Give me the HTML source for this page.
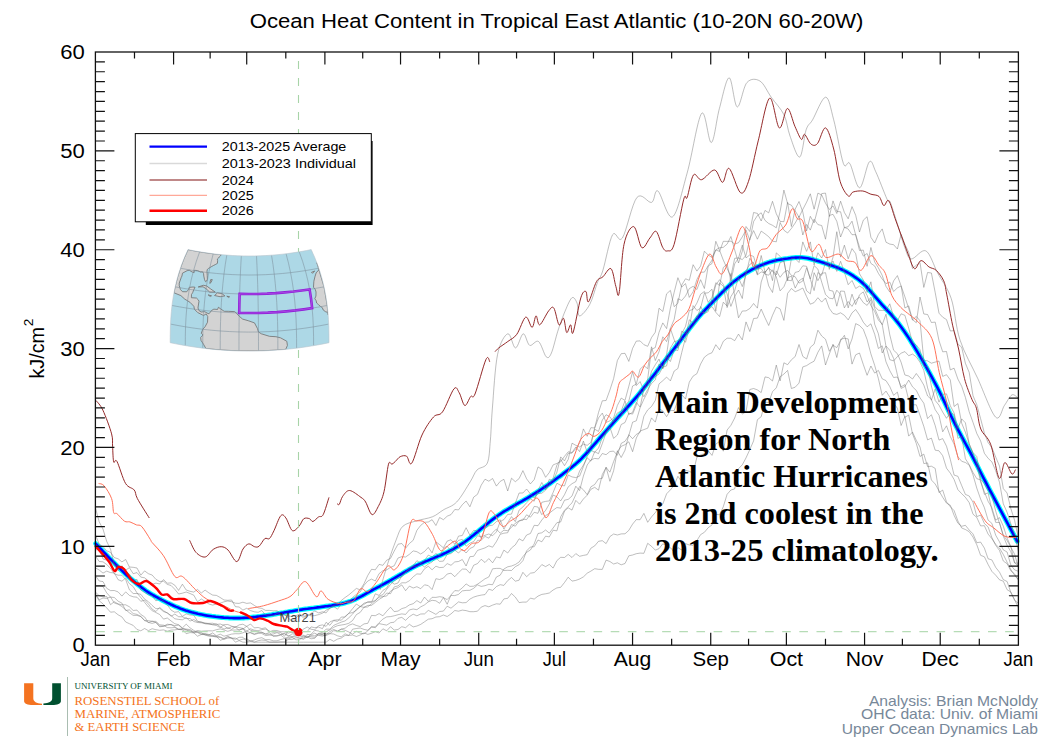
<!DOCTYPE html>
<html><head><meta charset="utf-8"><style>
html,body{margin:0;padding:0;background:#fff;width:1061px;height:742px;overflow:hidden}
svg{display:block}
</style></head><body>
<svg width="1061" height="742" viewBox="0 0 1061 742">
<rect width="1061" height="742" fill="#fff"/>
<polyline points="95.7,543.6 97.7,545.7 99.7,547.9 101.7,550.0 103.7,552.1 105.7,554.2 107.7,556.3 109.7,558.4 111.7,560.4 113.7,562.4 115.7,564.5 117.7,566.5 119.7,568.4 121.7,570.4 123.7,572.3 125.7,574.2 127.7,576.0 129.7,577.8 131.7,579.5 133.7,581.2 135.7,582.9 137.7,584.5 139.7,586.0 141.7,587.6 143.7,589.0 145.7,590.5 147.7,591.8 149.7,593.1 151.7,594.3 153.7,595.5 155.7,596.6 157.7,597.7 159.7,598.8 161.7,599.9 163.7,600.9 165.7,601.9 167.7,602.9 169.7,603.8 171.7,604.8 173.7,605.7 175.7,606.6 177.7,607.4 179.7,608.3 181.7,609.1 183.7,609.8 185.7,610.5 187.7,611.1 189.7,611.7 191.7,612.3 193.7,612.8 195.7,613.3 197.7,613.8 199.7,614.2 201.7,614.6 203.7,615.0 205.7,615.4 207.7,615.7 209.7,616.0 211.7,616.3 213.7,616.5 215.7,616.8 217.7,617.0 219.7,617.2 221.7,617.4 223.7,617.6 225.7,617.7 227.7,617.8 229.7,618.0 231.7,618.0 233.7,618.1 235.7,618.1 237.7,618.1 239.7,618.1 241.7,618.0 243.7,617.9 245.7,617.8 247.7,617.7 249.7,617.5 251.7,617.3 253.7,617.1 255.7,616.9 257.7,616.6 259.7,616.4 261.7,616.1 263.7,615.8 265.7,615.6 267.7,615.3 269.7,615.0 271.7,614.7 273.7,614.3 275.7,614.0 277.7,613.6 279.7,613.3 281.7,612.9 283.7,612.6 285.7,612.2 287.7,611.9 289.7,611.5 291.7,611.2 293.7,610.9 295.7,610.5 297.7,610.2 299.7,609.9 301.7,609.6 303.7,609.3 305.7,609.0 307.7,608.8 309.7,608.5 311.7,608.2 313.7,608.0 315.7,607.7 317.7,607.4 319.7,607.2 321.7,606.9 323.7,606.6 325.7,606.3 327.7,606.1 329.7,605.8 331.7,605.5 333.7,605.1 335.7,604.8 337.7,604.5 339.7,604.1 341.7,603.7 343.7,603.2 345.7,602.7 347.7,602.1 349.7,601.5 351.7,600.8 353.7,600.0 355.7,599.1 357.7,598.1 359.7,597.1 361.7,596.1 363.7,595.0 365.7,593.8 367.7,592.7 369.7,591.6 371.7,590.5 373.7,589.4 375.7,588.4 377.7,587.3 379.7,586.3 381.7,585.2 383.7,584.1 385.7,583.0 387.7,581.9 389.7,580.8 391.7,579.7 393.7,578.5 395.7,577.3 397.7,576.2 399.7,575.0 401.7,573.9 403.7,572.7 405.7,571.5 407.7,570.4 409.7,569.2 411.7,568.1 413.7,567.0 415.7,566.0 417.7,565.0 419.7,564.1 421.7,563.2 423.7,562.3 425.7,561.4 427.7,560.6 429.7,559.7 431.7,558.9 433.7,558.1 435.7,557.2 437.7,556.4 439.7,555.6 441.7,554.7 443.7,553.8 445.7,552.9 447.7,551.9 449.7,550.9 451.7,549.9 453.7,548.8 455.7,547.6 457.7,546.5 459.7,545.2 461.7,543.9 463.7,542.6 465.7,541.2 467.7,539.7 469.7,538.2 471.7,536.6 473.7,535.0 475.7,533.3 477.7,531.7 479.7,530.0 481.7,528.3 483.7,526.7 485.7,525.0 487.7,523.4 489.7,521.7 491.7,520.1 493.7,518.6 495.7,517.1 497.7,515.7 499.7,514.3 501.7,513.0 503.7,511.7 505.7,510.5 507.7,509.3 509.7,508.1 511.7,507.0 513.7,505.8 515.7,504.7 517.7,503.5 519.7,502.4 521.7,501.3 523.7,500.1 525.7,499.0 527.7,497.8 529.7,496.6 531.7,495.4 533.7,494.1 535.7,492.9 537.7,491.6 539.7,490.3 541.7,489.0 543.7,487.7 545.7,486.4 547.7,485.0 549.7,483.6 551.7,482.2 553.7,480.8 555.7,479.3 557.7,477.8 559.7,476.4 561.7,474.9 563.7,473.3 565.7,471.8 567.7,470.3 569.7,468.8 571.7,467.2 573.7,465.6 575.7,463.9 577.7,462.1 579.7,460.3 581.7,458.3 583.7,456.2 585.7,454.1 587.7,451.9 589.7,449.6 591.7,447.3 593.7,445.1 595.7,442.8 597.7,440.5 599.7,438.2 601.7,435.9 603.7,433.6 605.7,431.3 607.7,429.1 609.7,426.8 611.7,424.6 613.7,422.4 615.7,420.1 617.7,417.9 619.7,415.7 621.7,413.5 623.7,411.3 625.7,409.1 627.7,406.9 629.7,404.7 631.7,402.4 633.7,400.2 635.7,397.9 637.7,395.5 639.7,393.1 641.7,390.6 643.7,388.1 645.7,385.6 647.7,383.0 649.7,380.5 651.7,377.9 653.7,375.3 655.7,372.7 657.7,370.1 659.7,367.5 661.7,364.9 663.7,362.3 665.7,359.7 667.7,357.1 669.7,354.5 671.7,351.8 673.7,349.2 675.7,346.6 677.7,344.0 679.7,341.4 681.7,338.8 683.7,336.1 685.7,333.5 687.7,330.9 689.7,328.3 691.7,325.7 693.7,323.2 695.7,320.7 697.7,318.2 699.7,315.9 701.7,313.6 703.7,311.3 705.7,309.2 707.7,307.1 709.7,305.0 711.7,303.0 713.7,300.9 715.7,298.9 717.7,296.9 719.7,294.9 721.7,292.8 723.7,290.9 725.7,288.9 727.7,287.0 729.7,285.2 731.7,283.4 733.7,281.7 735.7,280.2 737.7,278.7 739.7,277.2 741.7,275.8 743.7,274.5 745.7,273.2 747.7,272.0 749.7,270.8 751.7,269.7 753.7,268.6 755.7,267.6 757.7,266.7 759.7,265.8 761.7,265.0 763.7,264.2 765.7,263.4 767.7,262.7 769.7,262.0 771.7,261.5 773.7,260.9 775.7,260.5 777.7,260.1 779.7,259.7 781.7,259.4 783.7,259.0 785.7,258.7 787.7,258.5 789.7,258.2 791.7,257.9 793.7,257.7 795.7,257.6 797.7,257.5 799.7,257.5 801.7,257.5 803.7,257.7 805.7,258.0 807.7,258.3 809.7,258.8 811.7,259.3 813.7,259.8 815.7,260.4 817.7,261.0 819.7,261.6 821.7,262.2 823.7,262.8 825.7,263.5 827.7,264.2 829.7,264.9 831.7,265.6 833.7,266.3 835.7,267.0 837.7,267.8 839.7,268.6 841.7,269.5 843.7,270.4 845.7,271.4 847.7,272.5 849.7,273.7 851.7,274.9 853.7,276.2 855.7,277.6 857.7,279.0 859.7,280.5 861.7,282.2 863.7,284.0 865.7,285.9 867.7,288.0 869.7,290.3 871.7,292.6 873.7,295.0 875.7,297.4 877.7,299.7 879.7,302.0 881.7,304.3 883.7,306.5 885.7,308.6 887.7,310.8 889.7,312.9 891.7,315.1 893.7,317.5 895.7,319.9 897.7,322.4 899.7,325.0 901.7,327.7 903.7,330.5 905.7,333.4 907.7,336.4 909.7,339.4 911.7,342.6 913.7,345.8 915.7,349.1 917.7,352.4 919.7,355.8 921.7,359.2 923.7,362.7 925.7,366.2 927.7,369.7 929.7,373.3 931.7,376.9 933.7,380.6 935.7,384.3 937.7,388.2 939.7,392.2 941.7,396.3 943.7,400.4 945.7,404.6 947.7,408.9 949.7,413.1 951.7,417.2 953.7,421.3 955.7,425.3 957.7,429.1 959.7,432.9 961.7,436.6 963.7,440.3 965.7,444.0 967.7,447.7 969.7,451.4 971.7,455.2 973.7,459.0 975.7,462.9 977.7,466.7 979.7,470.6 981.7,474.5 983.7,478.3 985.7,482.2 987.7,486.0 989.7,489.8 991.7,493.6 993.7,497.3 995.7,501.1 997.7,504.9 999.7,508.6 1001.7,512.4 1003.7,516.1 1005.7,519.9 1007.7,523.6 1009.7,527.4 1011.7,531.1 1013.7,534.8 1015.7,538.6 1017.2,541.3" fill="none" stroke="#00ffff" stroke-width="5.0" stroke-linecap="round" stroke-linejoin="round"/>
<polyline points="95.7,543.6 97.7,545.7 99.7,547.9 101.7,550.0 103.7,552.1 105.7,554.2 107.7,556.3 109.7,558.4 111.7,560.4 113.7,562.4 115.7,564.5 117.7,566.5 119.7,568.4 121.7,570.4 123.7,572.3 125.7,574.2 127.7,576.0 129.7,577.8 131.7,579.5 133.7,581.2 135.7,582.9 137.7,584.5 139.7,586.0 141.7,587.6 143.7,589.0 145.7,590.5 147.7,591.8 149.7,593.1 151.7,594.3 153.7,595.5 155.7,596.6 157.7,597.7 159.7,598.8 161.7,599.9 163.7,600.9 165.7,601.9 167.7,602.9 169.7,603.8 171.7,604.8 173.7,605.7 175.7,606.6 177.7,607.4 179.7,608.3 181.7,609.1 183.7,609.8 185.7,610.5 187.7,611.1 189.7,611.7 191.7,612.3 193.7,612.8 195.7,613.3 197.7,613.8 199.7,614.2 201.7,614.6 203.7,615.0 205.7,615.4 207.7,615.7 209.7,616.0 211.7,616.3 213.7,616.5 215.7,616.8 217.7,617.0 219.7,617.2 221.7,617.4 223.7,617.6 225.7,617.7 227.7,617.8 229.7,618.0 231.7,618.0 233.7,618.1 235.7,618.1 237.7,618.1 239.7,618.1 241.7,618.0 243.7,617.9 245.7,617.8 247.7,617.7 249.7,617.5 251.7,617.3 253.7,617.1 255.7,616.9 257.7,616.6 259.7,616.4 261.7,616.1 263.7,615.8 265.7,615.6 267.7,615.3 269.7,615.0 271.7,614.7 273.7,614.3 275.7,614.0 277.7,613.6 279.7,613.3 281.7,612.9 283.7,612.6 285.7,612.2 287.7,611.9 289.7,611.5 291.7,611.2 293.7,610.9 295.7,610.5 297.7,610.2 299.7,609.9 301.7,609.6 303.7,609.3 305.7,609.0 307.7,608.8 309.7,608.5 311.7,608.2 313.7,608.0 315.7,607.7 317.7,607.4 319.7,607.2 321.7,606.9 323.7,606.6 325.7,606.3 327.7,606.1 329.7,605.8 331.7,605.5 333.7,605.1 335.7,604.8 337.7,604.5 339.7,604.1 341.7,603.7 343.7,603.2 345.7,602.7 347.7,602.1 349.7,601.5 351.7,600.8 353.7,600.0 355.7,599.1 357.7,598.1 359.7,597.1 361.7,596.1 363.7,595.0 365.7,593.8 367.7,592.7 369.7,591.6 371.7,590.5 373.7,589.4 375.7,588.4 377.7,587.3 379.7,586.3 381.7,585.2 383.7,584.1 385.7,583.0 387.7,581.9 389.7,580.8 391.7,579.7 393.7,578.5 395.7,577.3 397.7,576.2 399.7,575.0 401.7,573.9 403.7,572.7 405.7,571.5 407.7,570.4 409.7,569.2 411.7,568.1 413.7,567.0 415.7,566.0 417.7,565.0 419.7,564.1 421.7,563.2 423.7,562.3 425.7,561.4 427.7,560.6 429.7,559.7 431.7,558.9 433.7,558.1 435.7,557.2 437.7,556.4 439.7,555.6 441.7,554.7 443.7,553.8 445.7,552.9 447.7,551.9 449.7,550.9 451.7,549.9 453.7,548.8 455.7,547.6 457.7,546.5 459.7,545.2 461.7,543.9 463.7,542.6 465.7,541.2 467.7,539.7 469.7,538.2 471.7,536.6 473.7,535.0 475.7,533.3 477.7,531.7 479.7,530.0 481.7,528.3 483.7,526.7 485.7,525.0 487.7,523.4 489.7,521.7 491.7,520.1 493.7,518.6 495.7,517.1 497.7,515.7 499.7,514.3 501.7,513.0 503.7,511.7 505.7,510.5 507.7,509.3 509.7,508.1 511.7,507.0 513.7,505.8 515.7,504.7 517.7,503.5 519.7,502.4 521.7,501.3 523.7,500.1 525.7,499.0 527.7,497.8 529.7,496.6 531.7,495.4 533.7,494.1 535.7,492.9 537.7,491.6 539.7,490.3 541.7,489.0 543.7,487.7 545.7,486.4 547.7,485.0 549.7,483.6 551.7,482.2 553.7,480.8 555.7,479.3 557.7,477.8 559.7,476.4 561.7,474.9 563.7,473.3 565.7,471.8 567.7,470.3 569.7,468.8 571.7,467.2 573.7,465.6 575.7,463.9 577.7,462.1 579.7,460.3 581.7,458.3 583.7,456.2 585.7,454.1 587.7,451.9 589.7,449.6 591.7,447.3 593.7,445.1 595.7,442.8 597.7,440.5 599.7,438.2 601.7,435.9 603.7,433.6 605.7,431.3 607.7,429.1 609.7,426.8 611.7,424.6 613.7,422.4 615.7,420.1 617.7,417.9 619.7,415.7 621.7,413.5 623.7,411.3 625.7,409.1 627.7,406.9 629.7,404.7 631.7,402.4 633.7,400.2 635.7,397.9 637.7,395.5 639.7,393.1 641.7,390.6 643.7,388.1 645.7,385.6 647.7,383.0 649.7,380.5 651.7,377.9 653.7,375.3 655.7,372.7 657.7,370.1 659.7,367.5 661.7,364.9 663.7,362.3 665.7,359.7 667.7,357.1 669.7,354.5 671.7,351.8 673.7,349.2 675.7,346.6 677.7,344.0 679.7,341.4 681.7,338.8 683.7,336.1 685.7,333.5 687.7,330.9 689.7,328.3 691.7,325.7 693.7,323.2 695.7,320.7 697.7,318.2 699.7,315.9 701.7,313.6 703.7,311.3 705.7,309.2 707.7,307.1 709.7,305.0 711.7,303.0 713.7,300.9 715.7,298.9 717.7,296.9 719.7,294.9 721.7,292.8 723.7,290.9 725.7,288.9 727.7,287.0 729.7,285.2 731.7,283.4 733.7,281.7 735.7,280.2 737.7,278.7 739.7,277.2 741.7,275.8 743.7,274.5 745.7,273.2 747.7,272.0 749.7,270.8 751.7,269.7 753.7,268.6 755.7,267.6 757.7,266.7 759.7,265.8 761.7,265.0 763.7,264.2 765.7,263.4 767.7,262.7 769.7,262.0 771.7,261.5 773.7,260.9 775.7,260.5 777.7,260.1 779.7,259.7 781.7,259.4 783.7,259.0 785.7,258.7 787.7,258.5 789.7,258.2 791.7,257.9 793.7,257.7 795.7,257.6 797.7,257.5 799.7,257.5 801.7,257.5 803.7,257.7 805.7,258.0 807.7,258.3 809.7,258.8 811.7,259.3 813.7,259.8 815.7,260.4 817.7,261.0 819.7,261.6 821.7,262.2 823.7,262.8 825.7,263.5 827.7,264.2 829.7,264.9 831.7,265.6 833.7,266.3 835.7,267.0 837.7,267.8 839.7,268.6 841.7,269.5 843.7,270.4 845.7,271.4 847.7,272.5 849.7,273.7 851.7,274.9 853.7,276.2 855.7,277.6 857.7,279.0 859.7,280.5 861.7,282.2 863.7,284.0 865.7,285.9 867.7,288.0 869.7,290.3 871.7,292.6 873.7,295.0 875.7,297.4 877.7,299.7 879.7,302.0 881.7,304.3 883.7,306.5 885.7,308.6 887.7,310.8 889.7,312.9 891.7,315.1 893.7,317.5 895.7,319.9 897.7,322.4 899.7,325.0 901.7,327.7 903.7,330.5 905.7,333.4 907.7,336.4 909.7,339.4 911.7,342.6 913.7,345.8 915.7,349.1 917.7,352.4 919.7,355.8 921.7,359.2 923.7,362.7 925.7,366.2 927.7,369.7 929.7,373.3 931.7,376.9 933.7,380.6 935.7,384.3 937.7,388.2 939.7,392.2 941.7,396.3 943.7,400.4 945.7,404.6 947.7,408.9 949.7,413.1 951.7,417.2 953.7,421.3 955.7,425.3 957.7,429.1 959.7,432.9 961.7,436.6 963.7,440.3 965.7,444.0 967.7,447.7 969.7,451.4 971.7,455.2 973.7,459.0 975.7,462.9 977.7,466.7 979.7,470.6 981.7,474.5 983.7,478.3 985.7,482.2 987.7,486.0 989.7,489.8 991.7,493.6 993.7,497.3 995.7,501.1 997.7,504.9 999.7,508.6 1001.7,512.4 1003.7,516.1 1005.7,519.9 1007.7,523.6 1009.7,527.4 1011.7,531.1 1013.7,534.8 1015.7,538.6 1017.2,541.3" fill="none" stroke="#0000ff" stroke-width="2.6" stroke-linecap="round" stroke-linejoin="round"/>
<polyline points="95.4,507.7 99.2,521.8 103.0,529.1 106.7,541.4 110.5,549.1 114.3,564.9 118.1,565.5 121.9,568.5 125.7,570.1 129.4,567.7 133.2,573.7 137.0,572.6 140.8,577.1 144.6,577.8 148.4,580.9 152.1,584.5 155.9,583.1 159.7,584.0 163.5,579.6 167.3,583.2 171.1,582.9 174.8,585.2 178.6,590.4 182.4,584.2 186.2,590.0 190.0,591.3 193.8,592.1 197.5,589.4 201.3,593.0 205.1,590.1 208.9,592.9 212.7,595.1 216.4,595.4 220.2,597.5 224.0,600.0 227.8,600.3 231.6,600.0 235.4,606.7 239.1,607.0 242.9,610.1 246.7,608.3 250.5,610.6 254.3,611.8 258.1,612.3 261.8,610.5 265.6,615.1 269.4,614.7 273.2,615.9 277.0,613.6 280.8,615.0 284.5,614.3 288.3,618.1 292.1,621.1 295.9,617.9 299.7,614.5 303.5,617.9 307.2,614.7 311.0,615.9 314.8,615.6 318.6,614.6 322.4,613.2 326.1,610.2 329.9,608.2 333.7,605.5 337.5,604.7 341.3,600.5 345.1,597.5 348.8,594.9 352.6,591.7 356.4,588.4 360.2,589.9 364.0,583.7 367.8,575.4 371.5,569.3 375.3,569.8 379.1,564.4 382.9,565.3 386.7,560.2 390.5,558.4 394.2,551.1 398.0,544.2 401.8,543.5 405.6,548.2 409.4,543.5 413.2,540.3 416.9,530.3 420.7,525.4 424.5,522.3 428.3,522.0 432.1,519.7 435.9,525.5 439.6,517.5 443.4,519.7 447.2,516.2 451.0,514.6 454.8,509.5 458.5,509.9 462.3,504.7 466.1,501.0 469.9,506.8 473.7,497.1 477.5,494.3 481.2,485.2 485.0,479.2 488.8,481.2 492.6,478.5 496.4,486.1 500.2,481.4 503.9,479.3 507.7,491.0 511.5,478.2 515.3,481.7 519.1,478.6 522.9,470.6 526.6,478.8 530.4,483.9 534.2,479.6 538.0,466.9 541.8,469.4 545.6,477.3 549.3,472.5 553.1,464.9 556.9,463.4 560.7,461.7 564.5,456.3 568.2,451.8 572.0,452.5 575.8,447.0 579.6,451.6 583.4,441.1 587.2,452.2 590.9,445.6 594.7,427.9 598.5,412.5 602.3,400.8 606.1,400.5 609.9,390.0 613.6,378.7 617.4,360.4 621.2,353.7 625.0,353.3 628.8,361.4 632.6,348.3 636.3,341.1 640.1,340.9 643.9,344.7 647.7,346.3 651.5,337.6 655.3,332.2 659.0,308.2 662.8,311.5 666.6,293.8 670.4,290.4 674.2,306.7 677.9,303.2 681.7,285.1 685.5,278.8 689.3,280.3 693.1,264.7 696.9,271.1 700.6,266.1 704.4,251.2 708.2,255.0 712.0,257.4 715.8,250.0 719.6,251.4 723.3,241.3 727.1,241.4 730.9,241.2 734.7,244.0 738.5,242.7 742.3,236.9 746.0,230.1 749.8,240.1 753.6,221.6 757.4,215.5 761.2,212.8 765.0,220.4 768.7,223.5 772.5,225.3 776.3,227.8 780.1,211.5 783.9,190.1 787.6,203.6 791.4,205.2 795.2,210.9 799.0,217.2 802.8,209.4 806.6,202.2 810.3,193.8 814.1,209.2 817.9,193.1 821.7,195.0 825.5,203.2 829.3,209.5 833.0,205.9 836.8,213.5 840.6,201.2 844.4,212.5 848.2,218.8 852.0,206.6 855.7,215.3 859.5,232.0 863.3,220.2 867.1,216.7 870.9,237.3 874.7,243.0 878.4,234.4 882.2,228.9 886.0,242.2 889.8,244.1 893.6,244.7 897.4,249.0 901.1,234.4 904.9,244.3 908.7,252.2 912.5,268.5 916.3,265.2 920.0,262.6 923.8,287.4 927.6,272.5 931.4,273.0 935.2,292.5 939.0,313.2 942.7,317.2 946.5,319.6 950.3,331.0 954.1,330.6 957.9,344.1 961.7,347.2 965.4,363.3 969.2,372.4 973.0,395.7 976.8,404.7 980.6,418.6 984.4,433.2 988.1,442.6 991.9,447.7 995.7,457.0 999.5,466.1 1003.3,488.6 1007.1,493.0 1010.8,508.4 1014.6,520.4 1018.4,537.9" fill="none" stroke="#6e6e6e" stroke-opacity="0.5" stroke-width="0.9" stroke-linejoin="round"/>
<polyline points="95.4,534.7 99.2,544.1 103.0,546.6 106.7,550.8 110.5,552.4 114.3,557.6 118.1,558.8 121.9,561.9 125.7,559.5 129.4,567.0 133.2,567.3 137.0,568.0 140.8,575.2 144.6,570.9 148.4,573.7 152.1,575.0 155.9,579.3 159.7,581.5 163.5,581.2 167.3,584.4 171.1,585.5 174.8,589.3 178.6,594.0 182.4,593.2 186.2,592.0 190.0,593.5 193.8,595.2 197.5,601.8 201.3,599.0 205.1,601.4 208.9,604.0 212.7,605.1 216.4,604.0 220.2,603.2 224.0,601.8 227.8,601.0 231.6,601.7 235.4,603.2 239.1,603.4 242.9,602.2 246.7,603.4 250.5,602.9 254.3,605.4 258.1,607.8 261.8,608.4 265.6,610.4 269.4,610.4 273.2,610.8 277.0,610.7 280.8,613.6 284.5,615.4 288.3,616.0 292.1,616.5 295.9,615.7 299.7,614.1 303.5,616.2 307.2,615.9 311.0,613.3 314.8,611.0 318.6,612.9 322.4,611.8 326.1,612.9 329.9,608.1 333.7,606.4 337.5,609.2 341.3,604.2 345.1,602.2 348.8,601.9 352.6,597.4 356.4,594.4 360.2,591.9 364.0,585.3 367.8,581.0 371.5,579.1 375.3,581.0 379.1,573.6 382.9,570.7 386.7,569.9 390.5,567.3 394.2,565.8 398.0,558.0 401.8,556.7 405.6,557.0 409.4,554.3 413.2,550.9 416.9,551.7 420.7,554.0 424.5,551.5 428.3,547.4 432.1,552.9 435.9,541.9 439.6,544.6 443.4,547.8 447.2,541.1 451.0,539.7 454.8,544.3 458.5,536.1 462.3,535.5 466.1,527.7 469.9,535.3 473.7,530.4 477.5,530.7 481.2,538.4 485.0,528.2 488.8,525.9 492.6,525.1 496.4,521.6 500.2,519.8 503.9,529.1 507.7,522.6 511.5,516.6 515.3,521.6 519.1,510.1 522.9,507.0 526.6,502.7 530.4,499.0 534.2,501.2 538.0,490.3 541.8,482.5 545.6,489.7 549.3,479.3 553.1,480.7 556.9,472.2 560.7,456.9 564.5,460.9 568.2,453.4 572.0,453.1 575.8,448.7 579.6,443.0 583.4,428.9 587.2,436.3 590.9,427.7 594.7,428.0 598.5,417.9 602.3,413.1 606.1,422.4 609.9,420.8 613.6,418.0 617.4,405.4 621.2,398.1 625.0,400.4 628.8,386.3 632.6,371.7 636.3,385.6 640.1,381.6 643.9,390.6 647.7,379.0 651.5,349.4 655.3,347.5 659.0,332.4 662.8,322.9 666.6,328.6 670.4,308.1 674.2,292.2 677.9,277.7 681.7,287.1 685.5,283.6 689.3,297.4 693.1,291.8 696.9,279.5 700.6,272.3 704.4,272.1 708.2,265.7 712.0,260.2 715.8,249.8 719.6,247.8 723.3,247.3 727.1,244.1 730.9,236.5 734.7,250.0 738.5,263.0 742.3,251.3 746.0,226.5 749.8,231.5 753.6,212.5 757.4,213.4 761.2,221.0 765.0,210.4 768.7,212.9 772.5,201.3 776.3,213.8 780.1,221.4 783.9,221.7 787.6,202.3 791.4,226.5 795.2,209.1 799.0,201.5 802.8,212.0 806.6,231.0 810.3,216.3 814.1,222.9 817.9,208.4 821.7,193.6 825.5,193.1 829.3,216.5 833.0,200.9 836.8,211.4 840.6,211.8 844.4,227.7 848.2,226.7 852.0,221.2 855.7,235.0 859.5,250.5 863.3,250.1 867.1,266.3 870.9,247.5 874.7,262.0 878.4,267.8 882.2,275.4 886.0,286.4 889.8,292.1 893.6,280.9 897.4,275.6 901.1,285.8 904.9,308.0 908.7,305.9 912.5,319.7 916.3,322.7 920.0,297.0 923.8,314.0 927.6,314.5 931.4,322.5 935.2,322.1 939.0,340.6 942.7,351.8 946.5,351.5 950.3,369.9 954.1,368.2 957.9,379.1 961.7,386.3 965.4,397.4 969.2,411.8 973.0,422.4 976.8,433.5 980.6,440.9 984.4,453.3 988.1,458.3 991.9,461.9 995.7,470.7 999.5,482.3 1003.3,503.8 1007.1,512.3 1010.8,523.6 1014.6,535.2 1018.4,551.4" fill="none" stroke="#6e6e6e" stroke-opacity="0.5" stroke-width="0.9" stroke-linejoin="round"/>
<polyline points="95.4,550.2 99.2,548.9 103.0,559.0 106.7,560.1 110.5,561.2 114.3,564.3 118.1,570.5 121.9,565.7 125.7,571.2 129.4,574.1 133.2,580.5 137.0,579.4 140.8,590.1 144.6,592.5 148.4,594.8 152.1,595.7 155.9,600.9 159.7,598.8 163.5,601.2 167.3,604.9 171.1,610.1 174.8,612.3 178.6,611.6 182.4,616.4 186.2,613.9 190.0,615.0 193.8,615.2 197.5,621.2 201.3,622.3 205.1,623.8 208.9,624.2 212.7,624.6 216.4,623.8 220.2,626.7 224.0,629.1 227.8,627.7 231.6,629.4 235.4,626.7 239.1,627.5 242.9,628.5 246.7,631.0 250.5,628.8 254.3,630.2 258.1,630.7 261.8,629.6 265.6,629.1 269.4,631.0 273.2,632.4 277.0,631.9 280.8,632.5 284.5,636.2 288.3,631.2 292.1,632.4 295.9,633.7 299.7,630.4 303.5,631.6 307.2,631.6 311.0,626.9 314.8,627.7 318.6,627.0 322.4,628.7 326.1,622.3 329.9,625.3 333.7,620.5 337.5,621.4 341.3,617.0 345.1,617.1 348.8,613.3 352.6,608.6 356.4,604.0 360.2,606.6 364.0,603.1 367.8,602.4 371.5,602.5 375.3,593.8 379.1,595.4 382.9,590.4 386.7,588.1 390.5,581.0 394.2,584.2 398.0,583.0 401.8,575.7 405.6,572.1 409.4,569.3 413.2,565.5 416.9,560.7 420.7,563.4 424.5,560.6 428.3,555.1 432.1,557.0 435.9,553.5 439.6,555.9 443.4,548.5 447.2,546.1 451.0,551.7 454.8,544.7 458.5,540.4 462.3,539.4 466.1,546.2 469.9,543.2 473.7,541.5 477.5,535.7 481.2,536.9 485.0,535.3 488.8,534.0 492.6,535.7 496.4,531.9 500.2,521.5 503.9,519.6 507.7,514.4 511.5,514.1 515.3,503.2 519.1,493.0 522.9,493.0 526.6,489.0 530.4,493.9 534.2,498.0 538.0,493.7 541.8,493.2 545.6,490.2 549.3,485.1 553.1,478.2 556.9,465.1 560.7,459.5 564.5,465.7 568.2,459.5 572.0,443.2 575.8,445.3 579.6,447.0 583.4,444.2 587.2,445.3 590.9,442.4 594.7,429.2 598.5,431.4 602.3,420.0 606.1,414.7 609.9,416.9 613.6,422.0 617.4,418.3 621.2,415.9 625.0,405.8 628.8,401.1 632.6,386.0 636.3,384.1 640.1,369.1 643.9,365.7 647.7,368.7 651.5,346.8 655.3,360.5 659.0,351.8 662.8,336.8 666.6,341.6 670.4,328.4 674.2,319.3 677.9,298.7 681.7,300.5 685.5,296.0 689.3,288.6 693.1,286.3 696.9,289.5 700.6,279.7 704.4,288.5 708.2,266.1 712.0,263.5 715.8,241.3 719.6,250.4 723.3,260.1 727.1,268.5 730.9,276.4 734.7,258.3 738.5,257.9 742.3,259.6 746.0,255.3 749.8,238.9 753.6,230.6 757.4,239.2 761.2,231.1 765.0,233.8 768.7,236.7 772.5,241.2 776.3,241.8 780.1,222.5 783.9,230.2 787.6,233.0 791.4,228.5 795.2,223.0 799.0,216.2 802.8,235.0 806.6,224.4 810.3,230.1 814.1,219.2 817.9,224.6 821.7,225.5 825.5,239.2 829.3,215.5 833.0,214.3 836.8,221.3 840.6,237.0 844.4,227.3 848.2,229.0 852.0,234.7 855.7,234.6 859.5,247.1 863.3,256.1 867.1,253.5 870.9,263.4 874.7,266.0 878.4,273.4 882.2,279.1 886.0,283.6 889.8,282.1 893.6,291.5 897.4,287.9 901.1,285.9 904.9,296.8 908.7,308.5 912.5,320.0 916.3,316.4 920.0,320.8 923.8,360.3 927.6,360.9 931.4,363.2 935.2,362.1 939.0,361.1 942.7,376.4 946.5,374.7 950.3,379.9 954.1,406.5 957.9,403.6 961.7,423.2 965.4,432.2 969.2,444.0 973.0,452.5 976.8,456.6 980.6,479.3 984.4,483.8 988.1,490.5 991.9,496.0 995.7,511.1 999.5,523.5 1003.3,535.0 1007.1,540.6 1010.8,547.1 1014.6,554.2 1018.4,567.6" fill="none" stroke="#6e6e6e" stroke-opacity="0.5" stroke-width="0.9" stroke-linejoin="round"/>
<polyline points="95.4,556.0 99.2,561.5 103.0,561.8 106.7,564.5 110.5,568.3 114.3,573.8 118.1,575.2 121.9,575.2 125.7,579.6 129.4,589.8 133.2,593.5 137.0,593.5 140.8,594.3 144.6,599.1 148.4,601.7 152.1,605.4 155.9,608.7 159.7,608.3 163.5,611.6 167.3,612.9 171.1,616.2 174.8,614.1 178.6,616.7 182.4,616.8 186.2,618.5 190.0,618.5 193.8,621.5 197.5,622.5 201.3,622.8 205.1,623.1 208.9,623.7 212.7,624.8 216.4,625.5 220.2,627.6 224.0,624.7 227.8,624.5 231.6,626.1 235.4,627.3 239.1,624.9 242.9,624.2 246.7,626.4 250.5,624.0 254.3,627.9 258.1,627.5 261.8,628.6 265.6,627.8 269.4,631.9 273.2,630.4 277.0,630.5 280.8,631.7 284.5,631.8 288.3,633.2 292.1,631.7 295.9,633.0 299.7,632.4 303.5,629.1 307.2,627.0 311.0,629.2 314.8,629.9 318.6,625.7 322.4,624.9 326.1,626.3 329.9,621.9 333.7,620.3 337.5,619.8 341.3,620.2 345.1,616.4 348.8,613.4 352.6,612.5 356.4,610.3 360.2,606.6 364.0,604.4 367.8,601.7 371.5,601.4 375.3,600.9 379.1,596.1 382.9,594.7 386.7,589.3 390.5,584.5 394.2,581.0 398.0,578.2 401.8,577.0 405.6,572.6 409.4,567.8 413.2,566.0 416.9,566.3 420.7,563.9 424.5,567.0 428.3,564.0 432.1,562.0 435.9,557.8 439.6,561.4 443.4,561.1 447.2,554.3 451.0,553.6 454.8,550.1 458.5,553.0 462.3,549.2 466.1,553.0 469.9,548.5 473.7,546.8 477.5,540.4 481.2,540.2 485.0,536.4 488.8,538.2 492.6,532.6 496.4,529.1 500.2,533.2 503.9,530.2 507.7,530.7 511.5,527.4 515.3,523.2 519.1,520.8 522.9,520.3 526.6,514.8 530.4,517.2 534.2,512.3 538.0,513.3 541.8,502.3 545.6,501.4 549.3,500.9 553.1,492.5 556.9,483.2 560.7,485.3 564.5,485.9 568.2,475.0 572.0,476.9 575.8,477.6 579.6,476.1 583.4,466.6 587.2,456.2 590.9,450.4 594.7,452.2 598.5,448.1 602.3,437.4 606.1,431.8 609.9,426.4 613.6,419.5 617.4,412.9 621.2,411.0 625.0,400.9 628.8,414.6 632.6,412.3 636.3,402.4 640.1,407.1 643.9,389.1 647.7,385.2 651.5,371.4 655.3,364.7 659.0,359.1 662.8,369.0 666.6,356.8 670.4,361.5 674.2,349.8 677.9,350.5 681.7,333.7 685.5,326.4 689.3,310.6 693.1,309.4 696.9,303.1 700.6,294.2 704.4,291.5 708.2,302.4 712.0,297.2 715.8,282.7 719.6,285.5 723.3,267.5 727.1,264.1 730.9,280.8 734.7,263.8 738.5,258.1 742.3,245.1 746.0,257.9 749.8,254.9 753.6,256.5 757.4,269.0 761.2,268.5 765.0,274.2 768.7,275.2 772.5,269.8 776.3,275.0 780.1,262.7 783.9,261.2 787.6,280.2 791.4,280.7 795.2,272.4 799.0,271.4 802.8,265.8 806.6,266.3 810.3,279.2 814.1,290.6 817.9,272.5 821.7,275.3 825.5,262.4 829.3,267.1 833.0,261.0 836.8,271.4 840.6,261.3 844.4,272.1 848.2,284.7 852.0,280.5 855.7,288.5 859.5,286.1 863.3,288.3 867.1,295.4 870.9,305.6 874.7,311.5 878.4,320.0 882.2,324.3 886.0,346.5 889.8,359.7 893.6,360.9 897.4,356.6 901.1,353.2 904.9,351.6 908.7,355.7 912.5,354.1 916.3,356.8 920.0,362.3 923.8,370.3 927.6,387.9 931.4,400.2 935.2,388.9 939.0,402.1 942.7,394.3 946.5,393.9 950.3,405.8 954.1,413.0 957.9,428.5 961.7,418.9 965.4,422.8 969.2,443.8 973.0,453.5 976.8,464.1 980.6,482.1 984.4,491.8 988.1,501.3 991.9,507.8 995.7,520.2 999.5,517.6 1003.3,526.2 1007.1,538.1 1010.8,546.4 1014.6,562.7 1018.4,566.4" fill="none" stroke="#6e6e6e" stroke-opacity="0.5" stroke-width="0.9" stroke-linejoin="round"/>
<polyline points="95.4,567.9 99.2,570.0 103.0,573.1 106.7,571.1 110.5,572.6 114.3,572.9 118.1,579.7 121.9,581.2 125.7,578.0 129.4,583.7 133.2,586.6 137.0,592.9 140.8,597.6 144.6,602.3 148.4,607.0 152.1,610.6 155.9,612.5 159.7,614.5 163.5,619.1 167.3,618.0 171.1,621.0 174.8,623.7 178.6,624.7 182.4,627.9 186.2,624.2 190.0,627.8 193.8,630.4 197.5,632.5 201.3,634.5 205.1,634.6 208.9,634.8 212.7,632.9 216.4,635.8 220.2,634.1 224.0,636.2 227.8,635.2 231.6,634.1 235.4,633.7 239.1,633.8 242.9,632.8 246.7,631.1 250.5,632.8 254.3,634.5 258.1,633.4 261.8,632.4 265.6,634.1 269.4,634.3 273.2,634.0 277.0,632.6 280.8,634.5 284.5,633.2 288.3,636.5 292.1,633.8 295.9,634.5 299.7,634.8 303.5,635.3 307.2,637.5 311.0,635.7 314.8,635.8 318.6,633.6 322.4,634.7 326.1,631.6 329.9,629.9 333.7,627.3 337.5,625.7 341.3,625.0 345.1,624.4 348.8,623.3 352.6,620.5 356.4,614.6 360.2,612.4 364.0,607.2 367.8,605.4 371.5,605.4 375.3,602.4 379.1,599.4 382.9,597.1 386.7,593.0 390.5,593.7 394.2,586.9 398.0,585.9 401.8,582.8 405.6,582.8 409.4,580.8 413.2,576.8 416.9,573.9 420.7,574.2 424.5,568.8 428.3,566.3 432.1,569.8 435.9,566.2 439.6,567.6 443.4,567.3 447.2,563.6 451.0,565.3 454.8,561.9 458.5,561.5 462.3,559.5 466.1,566.0 469.9,556.7 473.7,556.3 477.5,550.4 481.2,549.2 485.0,547.9 488.8,545.8 492.6,547.2 496.4,541.6 500.2,534.3 503.9,533.2 507.7,532.7 511.5,524.4 515.3,526.2 519.1,521.0 522.9,519.1 526.6,519.6 530.4,514.2 534.2,506.4 538.0,507.0 541.8,514.7 545.6,510.4 549.3,504.0 553.1,495.0 556.9,496.8 560.7,500.9 564.5,494.7 568.2,486.9 572.0,483.7 575.8,481.6 579.6,471.0 583.4,465.1 587.2,457.8 590.9,461.2 594.7,451.7 598.5,453.7 602.3,443.6 606.1,432.5 609.9,427.2 613.6,438.4 617.4,435.0 621.2,424.5 625.0,422.5 628.8,413.2 632.6,414.1 636.3,405.1 640.1,390.0 643.9,396.8 647.7,389.5 651.5,383.6 655.3,379.8 659.0,363.9 662.8,367.8 666.6,354.6 670.4,328.6 674.2,339.7 677.9,348.3 681.7,331.2 685.5,333.4 689.3,330.5 693.1,326.0 696.9,320.2 700.6,306.5 704.4,313.6 708.2,311.6 712.0,299.1 715.8,285.0 719.6,279.7 723.3,284.4 727.1,293.9 730.9,306.4 734.7,296.5 738.5,290.0 742.3,298.5 746.0,270.8 749.8,264.4 753.6,262.3 757.4,274.9 761.2,271.9 765.0,273.0 768.7,267.0 772.5,280.6 776.3,252.9 780.1,256.3 783.9,260.6 787.6,280.8 791.4,258.6 795.2,258.7 799.0,262.5 802.8,241.9 806.6,251.4 810.3,241.9 814.1,264.9 817.9,252.8 821.7,258.0 825.5,249.5 829.3,269.4 833.0,257.3 836.8,231.7 840.6,257.1 844.4,245.2 848.2,258.8 852.0,248.6 855.7,253.7 859.5,273.8 863.3,280.0 867.1,292.5 870.9,281.8 874.7,306.4 878.4,310.3 882.2,310.4 886.0,310.3 889.8,303.8 893.6,316.7 897.4,320.7 901.1,313.8 904.9,315.3 908.7,328.2 912.5,342.4 916.3,345.0 920.0,349.7 923.8,366.0 927.6,366.8 931.4,386.0 935.2,400.5 939.0,405.2 942.7,412.1 946.5,418.3 950.3,412.5 954.1,414.6 957.9,438.4 961.7,436.5 965.4,458.8 969.2,464.6 973.0,472.5 976.8,478.7 980.6,479.9 984.4,494.4 988.1,492.8 991.9,509.8 995.7,522.4 999.5,522.5 1003.3,536.1 1007.1,545.3 1010.8,551.7 1014.6,562.9 1018.4,563.2" fill="none" stroke="#6e6e6e" stroke-opacity="0.5" stroke-width="0.9" stroke-linejoin="round"/>
<polyline points="95.4,575.7 99.2,581.0 103.0,581.6 106.7,588.3 110.5,590.6 114.3,590.5 118.1,591.9 121.9,596.1 125.7,591.9 129.4,595.4 133.2,596.8 137.0,597.2 140.8,601.3 144.6,600.1 148.4,604.1 152.1,609.1 155.9,611.5 159.7,607.5 163.5,610.7 167.3,613.0 171.1,615.5 174.8,618.8 178.6,619.4 182.4,619.8 186.2,617.6 190.0,621.1 193.8,619.5 197.5,621.8 201.3,621.9 205.1,623.3 208.9,623.4 212.7,623.2 216.4,624.5 220.2,624.0 224.0,625.4 227.8,628.7 231.6,626.7 235.4,627.1 239.1,630.4 242.9,628.2 246.7,633.9 250.5,632.5 254.3,634.0 258.1,632.7 261.8,633.5 265.6,635.6 269.4,635.1 273.2,635.5 277.0,635.7 280.8,634.5 284.5,633.8 288.3,635.5 292.1,636.6 295.9,635.4 299.7,636.0 303.5,637.0 307.2,637.5 311.0,634.2 314.8,630.4 318.6,631.0 322.4,633.0 326.1,629.1 329.9,629.2 333.7,625.4 337.5,623.7 341.3,622.1 345.1,620.9 348.8,617.8 352.6,614.1 356.4,609.3 360.2,606.5 364.0,607.4 367.8,606.9 371.5,603.8 375.3,600.4 379.1,597.2 382.9,596.6 386.7,596.0 390.5,591.2 394.2,589.0 398.0,587.6 401.8,584.9 405.6,590.7 409.4,586.1 413.2,588.0 416.9,586.7 420.7,588.7 424.5,584.8 428.3,585.6 432.1,589.6 435.9,578.7 439.6,579.5 443.4,578.1 447.2,574.0 451.0,573.2 454.8,576.7 458.5,572.7 462.3,569.1 466.1,569.1 469.9,573.2 473.7,565.2 477.5,563.6 481.2,559.3 485.0,562.5 488.8,558.6 492.6,562.8 496.4,556.9 500.2,557.9 503.9,550.1 507.7,553.0 511.5,547.9 515.3,544.9 519.1,538.8 522.9,540.9 526.6,535.0 530.4,533.5 534.2,525.3 538.0,525.7 541.8,520.0 545.6,515.6 549.3,513.3 553.1,510.2 556.9,507.5 560.7,508.2 564.5,500.2 568.2,499.4 572.0,496.0 575.8,486.2 579.6,490.6 583.4,476.0 587.2,465.0 590.9,459.9 594.7,458.4 598.5,458.9 602.3,453.5 606.1,454.7 609.9,451.5 613.6,451.1 617.4,455.3 621.2,443.4 625.0,441.3 628.8,435.6 632.6,422.2 636.3,420.8 640.1,407.7 643.9,399.2 647.7,392.0 651.5,379.2 655.3,376.6 659.0,374.1 662.8,367.2 666.6,365.9 670.4,348.1 674.2,341.6 677.9,340.7 681.7,337.7 685.5,342.3 689.3,328.4 693.1,305.6 696.9,310.5 700.6,308.1 704.4,293.2 708.2,292.8 712.0,289.2 715.8,311.2 719.6,282.9 723.3,286.2 727.1,307.6 730.9,296.6 734.7,290.5 738.5,277.7 742.3,286.6 746.0,274.8 749.8,258.3 753.6,263.8 757.4,274.4 761.2,255.5 765.0,272.0 768.7,268.3 772.5,271.0 776.3,276.8 780.1,290.9 783.9,286.7 787.6,277.8 791.4,276.2 795.2,288.1 799.0,280.8 802.8,278.2 806.6,290.8 810.3,293.9 814.1,272.7 817.9,280.7 821.7,273.3 825.5,272.7 829.3,290.3 833.0,291.1 836.8,306.2 840.6,291.0 844.4,291.3 848.2,307.9 852.0,294.2 855.7,304.6 859.5,294.8 863.3,291.9 867.1,302.0 870.9,297.3 874.7,308.4 878.4,317.0 882.2,324.8 886.0,314.2 889.8,334.9 893.6,350.2 897.4,353.7 901.1,362.3 904.9,375.0 908.7,376.0 912.5,379.0 916.3,373.5 920.0,378.5 923.8,385.1 927.6,396.0 931.4,399.4 935.2,409.7 939.0,415.3 942.7,431.8 946.5,425.8 950.3,436.5 954.1,444.2 957.9,456.7 961.7,461.3 965.4,462.5 969.2,465.1 973.0,474.9 976.8,488.2 980.6,499.0 984.4,507.7 988.1,520.1 991.9,523.4 995.7,535.2 999.5,541.9 1003.3,549.9 1007.1,552.0 1010.8,565.0 1014.6,569.9 1018.4,571.3" fill="none" stroke="#6e6e6e" stroke-opacity="0.5" stroke-width="0.9" stroke-linejoin="round"/>
<polyline points="95.4,586.4 99.2,586.0 103.0,586.6 106.7,592.8 110.5,597.1 114.3,597.5 118.1,601.2 121.9,603.1 125.7,610.5 129.4,609.9 133.2,613.6 137.0,614.4 140.8,616.4 144.6,620.7 148.4,620.7 152.1,621.3 155.9,621.4 159.7,624.8 163.5,625.2 167.3,627.6 171.1,627.8 174.8,627.5 178.6,629.4 182.4,629.8 186.2,630.0 190.0,631.5 193.8,632.0 197.5,630.5 201.3,631.2 205.1,630.9 208.9,630.8 212.7,630.9 216.4,629.7 220.2,628.9 224.0,630.0 227.8,631.3 231.6,630.2 235.4,630.0 239.1,629.8 242.9,629.2 246.7,626.2 250.5,630.3 254.3,631.1 258.1,631.8 261.8,632.2 265.6,634.0 269.4,632.6 273.2,636.5 277.0,636.1 280.8,635.1 284.5,638.0 288.3,637.4 292.1,637.1 295.9,636.7 299.7,638.2 303.5,638.3 307.2,634.3 311.0,634.9 314.8,633.1 318.6,635.4 322.4,636.1 326.1,634.9 329.9,631.6 333.7,629.4 337.5,631.2 341.3,629.0 345.1,628.2 348.8,625.3 352.6,623.9 356.4,625.5 360.2,626.6 364.0,623.9 367.8,623.3 371.5,615.4 375.3,615.7 379.1,613.6 382.9,615.8 386.7,611.3 390.5,607.2 394.2,611.6 398.0,611.1 401.8,608.6 405.6,607.5 409.4,604.9 413.2,603.7 416.9,600.6 420.7,603.0 424.5,597.1 428.3,601.4 432.1,597.3 435.9,597.4 439.6,596.7 443.4,597.3 447.2,604.3 451.0,594.9 454.8,590.6 458.5,590.9 462.3,587.9 466.1,583.9 469.9,586.4 473.7,586.2 477.5,584.2 481.2,581.6 485.0,578.8 488.8,577.0 492.6,568.8 496.4,568.4 500.2,568.4 503.9,570.5 507.7,570.3 511.5,570.5 515.3,566.7 519.1,564.7 522.9,560.7 526.6,550.9 530.4,547.0 534.2,546.7 538.0,540.0 541.8,541.8 545.6,536.2 549.3,536.9 553.1,530.2 556.9,530.9 560.7,516.8 564.5,510.3 568.2,506.6 572.0,502.9 575.8,494.6 579.6,486.5 583.4,489.8 587.2,494.7 590.9,486.8 594.7,484.5 598.5,478.9 602.3,478.3 606.1,467.3 609.9,481.3 613.6,470.8 617.4,450.8 621.2,457.5 625.0,450.2 628.8,434.7 632.6,438.7 636.3,434.4 640.1,432.4 643.9,416.1 647.7,409.9 651.5,406.5 655.3,400.4 659.0,383.9 662.8,380.7 666.6,377.1 670.4,380.9 674.2,371.0 677.9,368.5 681.7,352.7 685.5,337.8 689.3,319.8 693.1,323.0 696.9,315.9 700.6,312.2 704.4,312.7 708.2,309.6 712.0,306.5 715.8,312.3 719.6,316.6 723.3,302.2 727.1,306.1 730.9,273.5 734.7,296.1 738.5,317.8 742.3,311.0 746.0,310.9 749.8,308.5 753.6,303.5 757.4,308.1 761.2,282.0 765.0,271.0 768.7,285.9 772.5,292.5 776.3,270.9 780.1,277.3 783.9,272.3 787.6,270.4 791.4,275.4 795.2,276.8 799.0,283.1 802.8,281.0 806.6,267.7 810.3,279.0 814.1,265.6 817.9,269.1 821.7,282.1 825.5,294.4 829.3,298.2 833.0,298.8 836.8,290.2 840.6,294.4 844.4,307.9 848.2,301.5 852.0,306.4 855.7,300.0 859.5,297.1 863.3,302.6 867.1,305.4 870.9,299.5 874.7,324.3 878.4,333.8 882.2,353.0 886.0,346.0 889.8,350.3 893.6,358.4 897.4,374.9 901.1,388.4 904.9,386.5 908.7,380.1 912.5,386.8 916.3,390.4 920.0,397.8 923.8,403.2 927.6,418.6 931.4,414.7 935.2,425.6 939.0,440.1 942.7,438.6 946.5,446.2 950.3,459.4 954.1,475.1 957.9,476.3 961.7,485.6 965.4,494.4 969.2,496.0 973.0,502.2 976.8,516.6 980.6,515.1 984.4,523.5 988.1,526.9 991.9,537.6 995.7,545.3 999.5,550.5 1003.3,561.0 1007.1,563.7 1010.8,570.8 1014.6,573.9 1018.4,579.8" fill="none" stroke="#6e6e6e" stroke-opacity="0.5" stroke-width="0.9" stroke-linejoin="round"/>
<polyline points="95.4,592.1 99.2,595.7 103.0,596.8 106.7,596.6 110.5,604.7 114.3,601.7 118.1,603.9 121.9,604.8 125.7,604.8 129.4,606.8 133.2,610.5 137.0,610.1 140.8,614.5 144.6,616.9 148.4,622.6 152.1,621.2 155.9,622.5 159.7,626.1 163.5,626.1 167.3,625.2 171.1,624.3 174.8,626.8 178.6,629.4 182.4,628.5 186.2,629.7 190.0,630.5 193.8,632.9 197.5,631.9 201.3,632.4 205.1,635.2 208.9,636.1 212.7,636.3 216.4,637.1 220.2,637.4 224.0,639.3 227.8,638.1 231.6,637.9 235.4,642.2 239.1,640.6 242.9,642.2 246.7,642.2 250.5,641.7 254.3,642.2 258.1,642.2 261.8,642.2 265.6,642.2 269.4,642.2 273.2,642.2 277.0,642.2 280.8,642.2 284.5,642.2 288.3,642.2 292.1,642.2 295.9,642.2 299.7,642.2 303.5,642.2 307.2,642.2 311.0,642.2 314.8,642.2 318.6,642.2 322.4,642.2 326.1,642.2 329.9,639.3 333.7,641.3 337.5,639.1 341.3,638.0 345.1,635.4 348.8,635.5 352.6,629.2 356.4,628.5 360.2,628.0 364.0,629.4 367.8,630.2 371.5,627.4 375.3,626.7 379.1,622.7 382.9,619.1 386.7,616.9 390.5,616.6 394.2,615.8 398.0,614.7 401.8,613.9 405.6,614.4 409.4,609.9 413.2,609.0 416.9,609.7 420.7,606.9 424.5,604.9 428.3,601.9 432.1,600.3 435.9,600.8 439.6,603.3 443.4,597.7 447.2,599.6 451.0,595.4 454.8,595.6 458.5,594.4 462.3,590.9 466.1,590.4 469.9,590.3 473.7,588.3 477.5,584.9 481.2,586.4 485.0,585.7 488.8,584.3 492.6,584.7 496.4,577.0 500.2,575.2 503.9,569.0 507.7,566.8 511.5,566.0 515.3,564.5 519.1,562.0 522.9,556.7 526.6,552.3 530.4,550.0 534.2,543.9 538.0,533.5 541.8,532.8 545.6,530.0 549.3,533.1 553.1,528.0 556.9,522.7 560.7,521.9 564.5,511.1 568.2,507.8 572.0,510.1 575.8,500.4 579.6,504.2 583.4,499.0 587.2,495.2 590.9,489.3 594.7,487.3 598.5,490.2 602.3,474.5 606.1,467.4 609.9,472.2 613.6,461.7 617.4,451.8 621.2,446.3 625.0,444.7 628.8,441.8 632.6,451.7 636.3,438.0 640.1,431.0 643.9,429.6 647.7,428.2 651.5,417.9 655.3,422.1 659.0,408.6 662.8,411.0 666.6,416.7 670.4,410.4 674.2,410.5 677.9,400.6 681.7,394.6 685.5,399.0 689.3,382.1 693.1,376.1 696.9,373.7 700.6,364.0 704.4,357.2 708.2,354.3 712.0,352.7 715.8,344.7 719.6,349.8 723.3,341.3 727.1,338.2 730.9,338.3 734.7,340.7 738.5,334.1 742.3,339.9 746.0,321.9 749.8,331.5 753.6,318.5 757.4,318.1 761.2,309.1 765.0,317.8 768.7,325.5 772.5,315.3 776.3,307.0 780.1,308.9 783.9,320.4 787.6,293.4 791.4,288.5 795.2,291.7 799.0,290.1 802.8,288.0 806.6,296.6 810.3,304.2 814.1,302.6 817.9,297.7 821.7,302.1 825.5,298.0 829.3,308.4 833.0,313.5 836.8,314.4 840.6,312.8 844.4,315.3 848.2,319.9 852.0,312.9 855.7,309.5 859.5,315.1 863.3,322.2 867.1,326.8 870.9,323.8 874.7,334.3 878.4,348.5 882.2,345.8 886.0,361.9 889.8,370.7 893.6,377.5 897.4,377.0 901.1,386.8 904.9,384.6 908.7,399.8 912.5,404.8 916.3,404.8 920.0,415.3 923.8,426.4 927.6,439.9 931.4,438.1 935.2,450.2 939.0,450.8 942.7,455.7 946.5,468.2 950.3,473.1 954.1,479.5 957.9,489.7 961.7,493.7 965.4,497.3 969.2,502.6 973.0,514.2 976.8,517.4 980.6,525.9 984.4,525.7 988.1,534.1 991.9,538.7 995.7,544.4 999.5,548.1 1003.3,554.5 1007.1,562.2 1010.8,569.5 1014.6,575.3 1018.4,579.9" fill="none" stroke="#6e6e6e" stroke-opacity="0.5" stroke-width="0.9" stroke-linejoin="round"/>
<polyline points="95.4,593.6 99.2,599.8 103.0,598.0 106.7,598.4 110.5,597.0 114.3,603.0 118.1,604.2 121.9,606.5 125.7,609.8 129.4,612.8 133.2,615.4 137.0,615.4 140.8,616.6 144.6,620.3 148.4,622.4 152.1,623.4 155.9,622.3 159.7,626.8 163.5,626.3 167.3,624.2 171.1,624.8 174.8,625.6 178.6,625.2 182.4,628.3 186.2,629.1 190.0,629.5 193.8,632.0 197.5,631.7 201.3,633.6 205.1,633.6 208.9,634.5 212.7,635.4 216.4,636.1 220.2,636.9 224.0,638.6 227.8,636.2 231.6,638.1 235.4,639.3 239.1,637.3 242.9,637.2 246.7,641.1 250.5,640.7 254.3,642.2 258.1,640.7 261.8,640.0 265.6,640.4 269.4,642.2 273.2,642.2 277.0,642.2 280.8,641.9 284.5,641.9 288.3,639.4 292.1,639.6 295.9,637.8 299.7,638.2 303.5,639.3 307.2,636.8 311.0,638.8 314.8,638.3 318.6,633.3 322.4,633.7 326.1,633.7 329.9,633.6 333.7,630.7 337.5,631.2 341.3,629.3 345.1,630.3 348.8,632.0 352.6,634.2 356.4,631.3 360.2,633.2 364.0,633.8 367.8,630.9 371.5,626.4 375.3,627.8 379.1,623.6 382.9,624.4 386.7,625.1 390.5,622.7 394.2,622.2 398.0,618.3 401.8,617.4 405.6,620.3 409.4,616.6 413.2,614.2 416.9,615.8 420.7,614.0 424.5,613.9 428.3,610.4 432.1,612.3 435.9,614.4 439.6,611.5 443.4,611.1 447.2,606.2 451.0,608.2 454.8,605.0 458.5,601.9 462.3,602.8 466.1,602.6 469.9,599.1 473.7,597.1 477.5,595.9 481.2,595.1 485.0,594.6 488.8,589.2 492.6,590.4 496.4,586.6 500.2,584.7 503.9,585.4 507.7,580.6 511.5,577.5 515.3,581.2 519.1,580.2 522.9,572.3 526.6,576.7 530.4,573.2 534.2,572.6 538.0,569.0 541.8,564.6 545.6,566.6 549.3,564.4 553.1,568.1 556.9,560.6 560.7,557.3 564.5,557.5 568.2,554.4 572.0,557.5 575.8,553.6 579.6,556.3 583.4,555.4 587.2,554.7 590.9,548.2 594.7,545.9 598.5,541.3 602.3,540.7 606.1,543.6 609.9,536.6 613.6,534.0 617.4,535.0 621.2,533.9 625.0,533.8 628.8,530.4 632.6,524.1 636.3,519.6 640.1,519.7 643.9,513.4 647.7,522.3 651.5,516.9 655.3,512.6 659.0,507.4 662.8,504.0 666.6,493.8 670.4,489.9 674.2,485.2 677.9,476.3 681.7,481.8 685.5,470.3 689.3,471.3 693.1,473.2 696.9,457.2 700.6,454.9 704.4,453.7 708.2,450.8 712.0,455.4 715.8,444.1 719.6,441.4 723.3,451.2 727.1,430.0 730.9,425.3 734.7,418.0 738.5,407.6 742.3,414.1 746.0,411.8 749.8,389.5 753.6,388.5 757.4,389.9 761.2,392.6 765.0,376.9 768.7,377.7 772.5,381.0 776.3,365.1 780.1,380.9 783.9,362.8 787.6,364.7 791.4,359.8 795.2,356.5 799.0,344.5 802.8,356.4 806.6,359.0 810.3,347.3 814.1,344.1 817.9,330.2 821.7,336.0 825.5,339.2 829.3,351.3 833.0,345.3 836.8,347.6 840.6,340.7 844.4,335.3 848.2,348.9 852.0,339.0 855.7,323.6 859.5,325.5 863.3,329.4 867.1,339.5 870.9,353.9 874.7,365.4 878.4,378.6 882.2,395.3 886.0,391.1 889.8,397.1 893.6,403.2 897.4,408.2 901.1,425.5 904.9,416.5 908.7,436.1 912.5,432.1 916.3,440.4 920.0,447.0 923.8,463.6 927.6,462.9 931.4,480.0 935.2,484.0 939.0,490.9 942.7,497.3 946.5,503.1 950.3,505.2 954.1,515.4 957.9,523.2 961.7,526.3 965.4,525.3 969.2,530.0 973.0,533.9 976.8,542.7 980.6,542.1 984.4,548.1 988.1,558.8 991.9,559.9 995.7,567.4 999.5,572.2 1003.3,579.6 1007.1,581.5 1010.8,592.4 1014.6,600.3 1018.4,603.3" fill="none" stroke="#6e6e6e" stroke-opacity="0.5" stroke-width="0.9" stroke-linejoin="round"/>
<polyline points="95.4,594.5 99.2,600.8 103.0,603.9 106.7,607.9 110.5,612.2 114.3,611.8 118.1,614.8 121.9,616.9 125.7,622.0 129.4,623.7 133.2,625.4 137.0,629.5 140.8,630.8 144.6,628.5 148.4,630.7 152.1,628.7 155.9,629.7 159.7,630.3 163.5,629.9 167.3,631.2 171.1,630.1 174.8,629.9 178.6,629.2 182.4,629.6 186.2,633.7 190.0,632.6 193.8,632.8 197.5,636.2 201.3,634.5 205.1,634.1 208.9,635.6 212.7,636.1 216.4,636.4 220.2,640.3 224.0,639.0 227.8,637.0 231.6,638.2 235.4,638.1 239.1,640.3 242.9,639.2 246.7,638.8 250.5,641.1 254.3,640.0 258.1,638.4 261.8,637.7 265.6,639.7 269.4,639.6 273.2,640.8 277.0,640.8 280.8,639.5 284.5,638.6 288.3,638.9 292.1,637.6 295.9,639.8 299.7,639.8 303.5,636.0 307.2,636.3 311.0,636.9 314.8,637.3 318.6,634.8 322.4,634.9 326.1,635.5 329.9,633.7 333.7,634.0 337.5,635.8 341.3,636.8 345.1,633.8 348.8,635.4 352.6,635.0 356.4,636.5 360.2,635.0 364.0,632.9 367.8,634.4 371.5,633.3 375.3,631.6 379.1,633.0 382.9,628.8 386.7,630.8 390.5,626.7 394.2,630.0 398.0,629.5 401.8,626.7 405.6,627.7 409.4,624.3 413.2,626.9 416.9,626.0 420.7,624.4 424.5,621.8 428.3,619.2 432.1,618.7 435.9,617.0 439.6,616.7 443.4,615.0 447.2,616.5 451.0,613.9 454.8,610.5 458.5,611.2 462.3,610.1 466.1,610.6 469.9,611.7 473.7,611.7 477.5,611.2 481.2,607.1 485.0,605.6 488.8,606.8 492.6,605.1 496.4,603.8 500.2,604.2 503.9,598.9 507.7,598.3 511.5,593.5 515.3,597.1 519.1,602.6 522.9,602.1 526.6,602.1 530.4,598.1 534.2,599.1 538.0,596.1 541.8,594.4 545.6,593.8 549.3,593.0 553.1,590.0 556.9,587.9 560.7,587.3 564.5,582.5 568.2,577.2 572.0,581.1 575.8,580.4 579.6,579.0 583.4,576.9 587.2,573.2 590.9,571.1 594.7,568.7 598.5,569.3 602.3,569.4 606.1,560.1 609.9,561.5 613.6,564.0 617.4,562.8 621.2,564.8 625.0,563.5 628.8,555.8 632.6,555.0 636.3,553.7 640.1,553.1 643.9,553.3 647.7,543.3 651.5,546.3 655.3,550.1 659.0,548.7 662.8,543.8 666.6,545.6 670.4,547.7 674.2,551.8 677.9,547.6 681.7,550.0 685.5,543.6 689.3,545.0 693.1,545.3 696.9,540.6 700.6,534.6 704.4,532.3 708.2,527.7 712.0,524.9 715.8,514.3 719.6,514.8 723.3,506.7 727.1,494.3 730.9,490.0 734.7,488.9 738.5,468.7 742.3,464.8 746.0,457.9 749.8,449.6 753.6,440.9 757.4,419.7 761.2,416.7 765.0,402.1 768.7,402.6 772.5,391.7 776.3,387.8 780.1,376.8 783.9,374.1 787.6,370.4 791.4,388.5 795.2,387.2 799.0,383.1 802.8,366.9 806.6,365.6 810.3,363.2 814.1,361.2 817.9,352.3 821.7,345.9 825.5,365.0 829.3,354.1 833.0,344.2 836.8,357.5 840.6,339.3 844.4,338.3 848.2,338.9 852.0,364.1 855.7,354.8 859.5,353.0 863.3,364.5 867.1,375.3 870.9,366.0 874.7,373.1 878.4,370.4 882.2,378.8 886.0,380.6 889.8,386.6 893.6,395.3 897.4,392.1 901.1,407.6 904.9,417.3 908.7,415.1 912.5,433.8 916.3,443.5 920.0,456.5 923.8,454.1 927.6,466.7 931.4,466.2 935.2,468.4 939.0,492.6 942.7,490.1 946.5,501.9 950.3,506.7 954.1,510.6 957.9,521.0 961.7,528.0 965.4,529.5 969.2,531.7 973.0,537.1 976.8,544.8 980.6,555.3 984.4,556.8 988.1,564.5 991.9,571.4 995.7,575.2 999.5,579.8 1003.3,581.2 1007.1,589.7 1010.8,592.0 1014.6,599.8 1018.4,607.8" fill="none" stroke="#6e6e6e" stroke-opacity="0.5" stroke-width="0.9" stroke-linejoin="round"/>
<path d="M380.0 590.0C381.3 585.7 384.9 572.3 387.6 564.0C390.3 555.7 393.6 546.3 396.1 540.0C398.6 533.7 399.4 529.5 402.8 526.3C406.2 523.1 411.4 522.5 416.3 520.9C421.2 519.3 427.9 518.6 432.4 516.8C436.9 515.0 439.1 512.5 443.2 510.0C447.2 507.5 452.2 506.7 456.7 502.0C461.2 497.3 466.8 487.1 470.2 481.8C473.6 476.5 474.1 473.1 477.0 470.0C479.9 466.9 485.1 468.1 487.3 463.1C489.5 458.1 489.5 449.2 490.4 440.0C491.2 430.8 491.2 422.3 492.4 408.0C493.6 393.7 495.0 366.7 497.6 354.3C500.2 341.9 504.8 334.9 507.8 333.8C510.8 332.7 512.9 347.9 515.5 347.9C518.1 347.9 520.9 334.2 523.2 333.8C525.6 333.4 527.1 344.0 529.6 345.3C532.1 346.6 535.7 339.6 538.5 341.5C541.3 343.4 544.1 354.9 546.2 356.8C548.4 358.7 549.5 357.3 551.4 353.0C553.3 348.7 555.7 337.8 557.8 331.2C559.9 324.6 561.9 318.9 564.2 313.3C566.5 307.8 569.7 299.6 571.8 297.9C573.9 296.2 575.7 300.0 577.0 303.0C578.3 306.0 577.4 315.7 579.5 315.9C581.6 316.1 586.8 309.9 589.8 304.3C592.8 298.8 595.2 288.3 597.4 282.6C599.6 276.9 600.4 278.3 602.9 270.3C605.4 262.3 609.4 240.1 612.6 234.7C615.9 229.3 618.4 244.2 622.4 238.0C626.4 231.8 632.0 203.4 636.9 197.5C641.8 191.6 648.0 203.5 651.5 202.4C655.0 201.3 654.4 188.6 657.9 191.0C661.4 193.4 667.6 219.9 672.5 216.9C677.4 213.9 682.2 190.4 687.1 173.2C692.0 155.9 697.6 118.5 701.6 113.4C705.6 108.3 708.3 143.3 711.3 142.5C714.3 141.7 716.4 119.3 719.4 108.5C722.4 97.7 726.1 78.1 729.1 77.8C732.1 77.5 734.2 106.1 737.2 106.9C740.2 107.7 743.1 86.9 746.9 82.6C750.7 78.3 755.8 78.6 759.9 81.0C764.0 83.4 767.2 91.5 771.2 97.2C775.2 102.9 781.0 108.5 784.1 115.0C787.2 121.5 787.4 129.0 790.0 136.0C792.6 143.0 797.0 158.1 799.7 157.0C802.4 155.9 804.1 135.8 806.2 129.6C808.4 123.4 809.4 125.2 812.6 119.8C815.8 114.4 822.1 97.2 825.6 97.2C829.1 97.2 830.7 108.8 833.7 119.8C836.7 130.8 840.7 156.2 843.4 163.5C846.1 170.8 847.1 159.4 849.8 163.5C852.5 167.6 856.4 188.1 859.6 187.8C862.9 187.5 866.6 164.6 869.3 161.9C872.0 159.2 872.8 165.4 875.7 171.6C878.7 177.8 884.6 194.0 887.0 199.1C889.4 204.2 888.7 198.5 890.3 202.3C891.9 206.1 894.3 214.1 896.7 221.7C899.1 229.2 902.4 241.4 904.8 247.6C907.2 253.8 907.8 258.3 911.3 258.9C914.8 259.4 921.5 248.5 925.9 250.9C930.3 253.3 933.6 265.4 937.8 273.3C942.0 281.2 947.5 287.4 951.2 298.5C954.9 309.6 955.6 326.6 960.0 340.0C964.4 353.4 971.9 365.8 977.8 378.6C983.7 391.5 991.1 412.7 995.6 417.1C1000.1 421.6 1001.8 409.0 1004.5 405.3C1007.2 401.6 1009.7 396.1 1011.9 394.9C1014.1 393.7 1016.9 397.4 1017.9 397.9" fill="none" stroke="#6e6e6e" stroke-opacity="0.5" stroke-width="0.9" stroke-linejoin="round"/>
<path d="M96.0 400.5C97.2 402.1 100.3 404.6 102.9 410.2C105.5 415.8 110.0 427.8 111.6 433.9C113.2 440.0 112.2 442.1 112.6 446.8C112.9 451.5 113.0 459.4 113.7 461.9C114.4 464.3 115.0 457.9 117.0 461.5C119.0 465.1 122.7 478.8 125.6 483.5C128.5 488.2 132.2 487.5 134.2 490.0C136.2 492.5 134.9 493.9 137.4 498.6C139.9 503.3 147.3 514.8 149.3 518.0" fill="none" stroke="#8e1f1f" stroke-width="0.95" stroke-linejoin="round"/>
<path d="M189.6 540.3C190.7 542.3 193.4 549.6 196.0 552.4C198.6 555.2 202.3 557.5 205.2 557.0C208.1 556.5 210.5 551.1 213.2 549.4C215.9 547.7 218.7 546.6 221.2 546.7C223.7 546.8 225.5 547.6 228.1 550.1C230.7 552.6 234.3 561.8 236.8 561.6C239.3 561.4 241.0 552.0 243.0 549.0C245.0 546.0 246.9 544.3 248.8 543.9C250.7 543.5 252.8 546.3 254.5 546.7C256.2 547.1 257.4 547.6 259.1 546.2C260.8 544.9 263.1 539.9 264.8 538.6C266.5 537.3 267.9 539.9 269.4 538.6C270.9 537.3 272.1 534.4 274.0 530.6C275.9 526.8 278.8 517.8 280.8 515.7C282.8 513.6 284.0 515.5 285.9 518.0C287.8 520.5 290.1 529.3 292.3 530.6C294.5 531.9 297.3 528.0 299.2 526.0C301.1 524.0 302.1 519.9 303.8 518.7C305.5 517.5 308.0 518.2 309.5 518.7C311.0 519.2 311.4 521.8 312.9 521.5C314.4 521.2 316.9 518.0 318.6 516.9C320.3 515.8 321.5 517.9 323.2 514.6C324.9 511.4 328.0 500.3 329.0 497.4" fill="none" stroke="#8e1f1f" stroke-width="0.95" stroke-linejoin="round"/>
<path d="M337.0 503.6C337.4 503.7 338.4 505.5 339.3 504.3C340.2 503.1 341.0 498.6 342.7 496.3C344.4 494.0 346.6 490.3 349.6 490.5C352.7 490.7 358.3 495.5 361.0 497.4C363.7 499.3 363.8 499.1 365.6 502.0C367.4 504.9 369.9 513.8 372.0 514.6C374.1 515.4 376.2 510.4 378.2 506.6C380.2 502.8 382.3 498.8 384.0 491.7C385.7 484.6 387.2 468.8 388.5 464.2C389.8 459.6 390.9 464.7 392.0 464.2C393.1 463.7 394.0 462.6 395.4 461.4C396.8 460.1 398.3 457.6 400.2 456.7C402.1 455.8 404.7 455.1 406.6 456.2C408.5 457.3 409.2 466.6 411.8 463.1C414.4 459.6 418.4 442.7 422.0 435.0C425.6 427.3 430.1 420.9 433.5 417.0C436.9 413.1 439.1 416.6 442.5 411.9C445.9 407.2 451.2 392.0 454.0 388.8C456.8 385.6 457.4 389.9 459.2 392.7C461.0 395.5 462.9 404.9 464.8 405.5C466.7 406.1 469.0 398.4 470.7 396.5C472.4 394.6 472.4 400.2 475.0 394.0C477.6 387.8 483.5 364.7 486.0 359.4C488.5 354.1 489.2 361.6 489.9 362.0" fill="none" stroke="#8e1f1f" stroke-width="0.95" stroke-linejoin="round"/>
<path d="M495.0 351.7C495.6 351.1 496.7 349.6 498.8 347.9C500.9 346.2 504.8 343.8 507.8 341.5C510.8 339.2 513.8 338.4 516.8 334.3C519.8 330.2 523.2 318.2 525.7 317.1C528.2 316.0 530.4 327.6 532.1 327.4C533.8 327.2 534.7 316.3 536.0 315.9C537.3 315.5 537.7 325.7 539.8 324.8C541.9 323.9 546.4 313.5 548.8 310.7C551.1 307.9 552.2 305.8 553.9 308.2C555.6 310.6 557.4 323.1 559.0 324.8C560.6 326.5 562.3 317.1 563.6 318.4C564.9 319.7 565.5 331.4 566.7 332.5C567.9 333.6 569.5 324.8 570.6 324.8C571.7 324.8 571.4 337.0 573.1 332.5C574.8 328.0 578.7 304.7 580.8 297.9C582.9 291.1 584.6 290.9 585.9 291.5C587.2 292.1 586.7 303.4 588.5 301.8C590.3 300.2 594.1 285.8 596.5 281.6C598.9 277.4 600.5 279.0 602.9 276.8C605.3 274.6 608.8 267.1 611.0 268.7C613.2 270.3 614.5 282.4 615.9 286.5C617.2 290.6 617.8 300.0 619.1 293.0C620.5 286.0 621.6 255.5 624.0 244.4C626.4 233.3 630.7 226.1 633.7 226.6C636.7 227.1 639.1 245.7 641.8 247.6C644.5 249.5 647.5 240.7 649.9 238.0C652.3 235.3 654.1 229.9 656.3 231.5C658.4 233.1 660.9 244.4 662.8 247.6C664.7 250.8 665.7 251.4 667.6 250.9C669.5 250.4 671.4 253.0 674.1 244.4C676.8 235.8 681.6 206.9 683.8 199.1C686.0 191.3 685.5 201.5 687.1 197.5C688.7 193.5 691.1 177.9 693.5 174.9C695.9 171.9 698.1 180.5 701.6 179.7C705.1 178.9 711.1 169.6 714.6 170.0C718.1 170.4 720.2 182.6 722.6 182.3C725.0 182.0 726.1 166.7 729.1 168.4C732.1 170.1 737.2 190.4 740.4 192.6C743.6 194.8 745.5 189.9 748.5 181.3C751.5 172.7 754.7 154.8 758.2 140.9C761.7 127.1 766.1 100.4 769.6 98.2C773.1 96.0 776.3 126.2 779.3 127.9C782.3 129.6 784.8 108.8 787.4 108.5C790.0 108.2 792.6 121.2 794.9 126.3C797.2 131.4 799.7 138.0 801.3 139.3C802.9 140.7 803.0 133.6 804.6 134.4C806.2 135.2 808.9 142.6 811.0 144.1C813.1 145.6 815.1 146.2 817.5 143.5C819.9 140.8 822.9 127.0 825.6 127.9C828.3 128.8 831.3 140.1 833.7 149.0C836.1 157.9 837.7 173.5 840.1 181.3C842.5 189.1 846.0 194.1 848.2 195.9C850.4 197.7 850.7 192.8 853.1 192.0C855.5 191.2 859.8 190.6 862.8 191.0C865.8 191.4 868.2 193.3 870.9 194.2C873.6 195.1 876.9 194.6 879.0 196.5C881.1 198.4 882.2 204.9 883.8 205.6C885.4 206.3 886.8 198.5 888.7 200.7C890.6 202.8 893.0 212.6 895.1 218.5C897.2 224.4 899.4 230.4 901.6 236.3C903.8 242.2 906.0 248.7 908.1 254.1C910.2 259.5 912.4 267.6 914.5 268.7C916.6 269.8 918.6 260.9 921.0 260.6C923.4 260.3 926.6 265.4 929.1 267.0C931.6 268.6 933.9 268.1 936.3 270.4C938.7 272.7 942.0 276.9 943.7 280.8C945.4 284.8 945.2 286.7 946.7 294.1C948.2 301.5 950.6 316.1 952.6 325.2C954.6 334.3 956.6 340.1 958.6 349.0C960.6 357.9 962.3 370.2 964.5 378.6C966.7 387.0 969.9 394.4 971.9 399.3C973.9 404.2 974.9 403.2 976.4 408.2C977.9 413.1 978.4 423.0 980.8 429.0C983.2 435.0 987.5 436.0 990.6 444.2C993.7 452.4 996.7 475.0 999.1 478.1C1001.5 481.2 1002.7 463.3 1004.8 462.6C1006.9 461.9 1010.1 472.7 1011.9 473.9C1013.7 475.1 1014.9 470.3 1015.5 469.6" fill="none" stroke="#8e1f1f" stroke-width="0.95" stroke-linejoin="round"/>
<path d="M98.6 483.5C99.5 483.9 101.8 483.2 104.0 485.7C106.2 488.2 110.0 494.1 111.6 498.6C113.2 503.1 112.8 510.1 113.7 512.6C114.6 515.1 115.2 512.3 117.0 513.7C118.8 515.1 122.3 519.8 124.5 521.2C126.7 522.6 127.9 521.3 129.9 521.9C131.9 522.5 134.4 524.1 136.4 524.9C138.4 525.7 139.5 524.1 141.8 526.6C144.1 529.1 148.7 536.9 150.4 539.6C152.1 542.3 150.0 539.9 152.2 542.6C154.4 545.3 159.7 550.1 163.5 555.8C167.3 561.4 171.7 573.0 174.8 576.5C178.0 580.0 178.9 574.3 182.4 576.5C185.9 578.7 191.5 585.9 195.6 589.7C199.7 593.5 202.5 596.7 206.9 599.2C211.3 601.7 217.6 602.9 222.0 604.8C226.4 606.7 229.9 609.1 233.3 610.5C236.8 611.9 241.1 612.8 242.7 613.3" fill="none" stroke="#ff6a50" stroke-width="0.95" stroke-linejoin="round"/>
<path d="M248.3 608.6C250.8 608.1 258.4 607.1 263.4 605.8C268.4 604.5 274.1 602.5 278.5 601.0C282.9 599.5 286.9 598.5 290.0 596.6C293.1 594.7 294.5 592.0 297.1 589.5C299.7 587.0 302.4 580.5 305.6 581.7C308.8 582.9 313.6 595.1 316.2 596.6C318.8 598.1 319.1 590.4 321.1 590.9C323.1 591.4 325.1 597.3 328.2 599.4C331.3 601.5 336.4 603.1 339.5 603.6C342.6 604.1 344.2 602.7 346.6 602.2C349.0 601.7 351.4 603.0 353.7 600.8C356.0 598.6 358.3 590.3 360.7 588.8C363.1 587.3 365.2 592.7 367.8 591.6C370.4 590.5 373.0 586.6 376.3 582.4C379.6 578.2 384.5 568.3 387.6 566.2C390.7 564.1 392.1 571.5 394.7 569.7C397.3 567.9 400.5 563.5 403.2 555.6C405.9 547.7 408.7 528.0 410.9 522.2C413.1 516.4 414.1 520.9 416.3 520.9C418.5 520.9 421.6 520.0 424.3 522.2C427.0 524.4 429.7 529.6 432.4 534.3C435.1 539.0 437.8 548.7 440.5 550.5C443.2 552.3 446.1 546.7 448.6 545.1C451.1 543.5 453.5 540.7 455.3 541.1C457.1 541.5 457.8 546.2 459.4 547.8C461.0 549.4 462.8 551.2 464.8 550.5C466.8 549.8 468.8 545.6 471.5 543.8C474.2 542.0 478.0 544.9 480.9 539.7C483.8 534.5 486.8 517.1 489.0 512.8C491.2 508.5 492.1 511.9 494.4 514.1C496.6 516.4 499.8 525.2 502.5 526.3C505.2 527.4 507.9 522.7 510.6 520.9C513.3 519.1 515.3 518.5 518.7 515.5C522.1 512.5 527.5 505.4 530.8 502.6C534.1 499.8 535.8 496.4 538.3 498.9C540.8 501.4 543.4 517.1 545.9 517.7C548.4 518.3 550.9 507.6 553.4 502.6C555.9 497.6 559.1 491.3 561.0 487.5C562.9 483.7 562.9 483.6 564.5 480.0C566.1 476.4 568.7 470.4 570.4 466.1C572.1 461.8 573.2 458.6 574.9 454.2C576.6 449.8 578.6 442.8 580.8 439.4C583.0 435.9 586.0 434.0 588.2 433.5C590.4 433.0 591.9 436.9 594.1 436.4C596.3 435.9 599.4 433.5 601.6 430.5C603.8 427.5 605.8 422.1 607.5 418.6C609.2 415.1 610.4 413.6 611.9 409.7C613.4 405.8 615.2 399.3 616.4 394.9C617.6 390.4 618.1 385.7 619.3 383.0C620.5 380.3 622.1 380.1 623.8 378.6C625.5 377.1 628.2 375.3 629.7 374.1C631.2 372.9 631.2 370.7 632.7 371.2C634.2 371.7 636.6 378.1 638.6 377.1C640.6 376.1 642.6 368.4 644.6 365.2C646.6 362.0 648.5 360.0 650.5 357.8C652.5 355.6 654.4 354.6 656.4 351.9C658.4 349.2 660.3 344.5 662.3 341.5C664.3 338.5 666.3 337.1 668.3 334.1C670.3 331.1 672.0 326.4 674.2 323.7C676.4 321.0 679.1 320.3 681.6 317.8C684.1 315.3 686.8 313.6 689.0 308.9C691.2 304.2 693.0 296.1 695.1 289.7C697.2 283.3 699.2 276.2 701.6 270.3C704.0 264.4 707.3 254.7 709.7 254.1C712.1 253.5 714.1 263.8 716.2 267.0C718.4 270.2 719.9 276.2 722.6 273.5C725.3 270.8 729.1 258.7 732.4 250.9C735.6 243.1 739.4 227.7 742.1 226.6C744.8 225.5 746.6 237.7 748.5 244.4C750.4 251.1 751.5 265.9 753.4 267.0C755.3 268.1 757.5 254.1 759.9 250.9C762.3 247.7 765.2 250.3 767.9 247.6C770.6 244.9 773.0 238.5 776.0 234.7C779.0 230.9 783.0 229.3 785.7 225.0C788.4 220.7 790.3 209.9 792.2 208.8C794.1 207.7 795.3 216.3 797.1 218.5C798.9 220.7 800.6 216.3 802.9 221.7C805.2 227.1 808.3 247.1 811.0 250.9C813.7 254.7 816.7 243.3 819.1 244.4C821.5 245.5 822.4 255.7 825.6 257.3C828.8 258.9 835.0 253.5 838.5 254.1C842.0 254.7 843.9 259.2 846.6 260.6C849.3 262.0 852.3 260.6 854.7 262.2C857.1 263.8 858.5 271.4 861.2 270.3C863.9 269.2 867.9 256.5 870.9 255.7C873.9 254.9 876.6 262.4 879.0 265.4C881.4 268.4 883.2 268.5 885.4 273.5C887.5 278.5 889.3 290.0 891.9 295.6C894.5 301.2 897.8 304.2 900.8 307.4C903.8 310.6 906.6 312.3 909.6 314.8C912.6 317.3 914.8 318.3 918.5 322.3C922.2 326.3 928.4 330.2 931.9 338.6C935.4 347.0 936.8 362.1 939.3 372.7C941.8 383.3 944.5 391.9 946.7 402.3C948.9 412.7 950.6 425.3 952.6 434.9C954.6 444.5 957.6 455.9 958.6 460.1" fill="none" stroke="#ff6a50" stroke-width="0.95" stroke-linejoin="round"/>
<path d="M973.6 500.8C975.5 504.1 981.7 516.1 985.0 520.6C988.3 525.1 990.2 525.1 993.5 527.7C996.8 530.3 1001.0 534.6 1004.8 536.2C1008.6 537.9 1014.2 537.4 1016.1 537.6" fill="none" stroke="#ff6a50" stroke-width="0.95" stroke-linejoin="round"/>
<path d="M95.7 546.4C97.9 548.9 105.8 557.4 108.9 561.5C112.0 565.6 112.9 570.1 114.5 571.0C116.1 571.9 116.7 567.3 118.3 567.0C119.9 566.7 121.8 566.8 124.0 569.0C126.2 571.2 129.0 577.5 131.5 580.0C134.0 582.5 136.5 583.8 139.0 584.0C141.5 584.2 143.7 580.3 146.5 581.0C149.3 581.7 153.5 585.8 156.0 588.0C158.5 590.2 159.7 593.4 161.6 594.5C163.5 595.6 165.4 593.8 167.3 594.5C169.2 595.2 170.2 598.2 173.0 599.0C175.8 599.8 180.9 598.3 184.0 599.0C187.1 599.7 188.6 602.3 191.8 603.0C195.0 603.7 199.9 603.3 203.0 603.0C206.1 602.7 207.4 600.5 210.6 601.0C213.8 601.5 218.8 604.2 222.0 605.8C225.2 607.4 227.7 609.7 229.5 610.5C231.3 611.3 232.4 610.5 233.0 610.5M240.8 612.4C242.1 613.0 246.1 614.7 248.3 616.0C250.5 617.3 252.1 619.6 254.0 620.0C255.9 620.4 257.8 618.3 260.0 618.4C262.2 618.5 265.2 619.7 267.5 620.6C269.8 621.5 271.1 623.1 273.6 624.0C276.1 624.9 280.4 625.4 282.6 625.9C284.9 626.4 285.3 626.0 287.1 626.7C288.9 627.5 291.3 629.5 293.2 630.4C295.1 631.3 297.6 631.7 298.5 632.0" fill="none" stroke="#ff0000" stroke-width="2.4" stroke-linejoin="round" stroke-linecap="round"/>
<circle cx="298.5" cy="632" r="4.2" fill="#ff0000"/>
<path d="M96.2 631.7H1018.3" stroke="#b6dcb6" stroke-width="1.2" stroke-dasharray="8.6 8.55"/>
<path d="M298.5 60.9V645" stroke="#a8d4a8" stroke-width="1.1" stroke-dasharray="8.1 8.9"/>
<text x="279.50" y="621.80" text-anchor="start" textLength="36.30" lengthAdjust="spacingAndGlyphs" font-size="12.17" font-family='"Liberation Sans", sans-serif' fill="#222" fill-opacity="0.85">Mar21</text>
<path d="M95.40 635.31h9.5 M1018.40 635.31h-9.5 M95.40 625.43h9.5 M1018.40 625.43h-9.5 M95.40 615.54h9.5 M1018.40 615.54h-9.5 M95.40 605.65h9.5 M1018.40 605.65h-9.5 M95.40 595.77h9.5 M1018.40 595.77h-9.5 M95.40 585.88h9.5 M1018.40 585.88h-9.5 M95.40 575.99h9.5 M1018.40 575.99h-9.5 M95.40 566.11h9.5 M1018.40 566.11h-9.5 M95.40 556.22h9.5 M1018.40 556.22h-9.5 M95.40 546.33h19 M1018.40 546.33h-19 M95.40 536.45h9.5 M1018.40 536.45h-9.5 M95.40 526.56h9.5 M1018.40 526.56h-9.5 M95.40 516.67h9.5 M1018.40 516.67h-9.5 M95.40 506.79h9.5 M1018.40 506.79h-9.5 M95.40 496.90h9.5 M1018.40 496.90h-9.5 M95.40 487.01h9.5 M1018.40 487.01h-9.5 M95.40 477.13h9.5 M1018.40 477.13h-9.5 M95.40 467.24h9.5 M1018.40 467.24h-9.5 M95.40 457.35h9.5 M1018.40 457.35h-9.5 M95.40 447.47h19 M1018.40 447.47h-19 M95.40 437.58h9.5 M1018.40 437.58h-9.5 M95.40 427.69h9.5 M1018.40 427.69h-9.5 M95.40 417.81h9.5 M1018.40 417.81h-9.5 M95.40 407.92h9.5 M1018.40 407.92h-9.5 M95.40 398.03h9.5 M1018.40 398.03h-9.5 M95.40 388.15h9.5 M1018.40 388.15h-9.5 M95.40 378.26h9.5 M1018.40 378.26h-9.5 M95.40 368.37h9.5 M1018.40 368.37h-9.5 M95.40 358.49h9.5 M1018.40 358.49h-9.5 M95.40 348.60h19 M1018.40 348.60h-19 M95.40 338.71h9.5 M1018.40 338.71h-9.5 M95.40 328.83h9.5 M1018.40 328.83h-9.5 M95.40 318.94h9.5 M1018.40 318.94h-9.5 M95.40 309.05h9.5 M1018.40 309.05h-9.5 M95.40 299.17h9.5 M1018.40 299.17h-9.5 M95.40 289.28h9.5 M1018.40 289.28h-9.5 M95.40 279.39h9.5 M1018.40 279.39h-9.5 M95.40 269.51h9.5 M1018.40 269.51h-9.5 M95.40 259.62h9.5 M1018.40 259.62h-9.5 M95.40 249.73h19 M1018.40 249.73h-19 M95.40 239.85h9.5 M1018.40 239.85h-9.5 M95.40 229.96h9.5 M1018.40 229.96h-9.5 M95.40 220.07h9.5 M1018.40 220.07h-9.5 M95.40 210.19h9.5 M1018.40 210.19h-9.5 M95.40 200.30h9.5 M1018.40 200.30h-9.5 M95.40 190.41h9.5 M1018.40 190.41h-9.5 M95.40 180.53h9.5 M1018.40 180.53h-9.5 M95.40 170.64h9.5 M1018.40 170.64h-9.5 M95.40 160.75h9.5 M1018.40 160.75h-9.5 M95.40 150.87h19 M1018.40 150.87h-19 M95.40 140.98h9.5 M1018.40 140.98h-9.5 M95.40 131.09h9.5 M1018.40 131.09h-9.5 M95.40 121.21h9.5 M1018.40 121.21h-9.5 M95.40 111.32h9.5 M1018.40 111.32h-9.5 M95.40 101.43h9.5 M1018.40 101.43h-9.5 M95.40 91.55h9.5 M1018.40 91.55h-9.5 M95.40 81.66h9.5 M1018.40 81.66h-9.5 M95.40 71.77h9.5 M1018.40 71.77h-9.5 M95.40 61.89h9.5 M1018.40 61.89h-9.5 M134.49 645.20v-6.5 M134.49 52v6.5 M173.58 645.20v-12.4 M173.58 52v12.4 M210.14 645.20v-6.5 M210.14 52v6.5 M246.71 645.20v-12.4 M246.71 52v12.4 M285.80 645.20v-6.5 M285.80 52v6.5 M324.89 645.20v-12.4 M324.89 52v12.4 M362.72 645.20v-6.5 M362.72 52v6.5 M400.54 645.20v-12.4 M400.54 52v12.4 M439.63 645.20v-6.5 M439.63 52v6.5 M478.72 645.20v-12.4 M478.72 52v12.4 M516.55 645.20v-6.5 M516.55 52v6.5 M554.38 645.20v-12.4 M554.38 52v12.4 M593.47 645.20v-6.5 M593.47 52v6.5 M632.56 645.20v-12.4 M632.56 52v12.4 M671.64 645.20v-6.5 M671.64 52v6.5 M710.73 645.20v-12.4 M710.73 52v12.4 M748.56 645.20v-6.5 M748.56 52v6.5 M786.39 645.20v-12.4 M786.39 52v12.4 M825.48 645.20v-6.5 M825.48 52v6.5 M864.57 645.20v-12.4 M864.57 52v12.4 M902.39 645.20v-6.5 M902.39 52v6.5 M940.22 645.20v-12.4 M940.22 52v12.4 M979.31 645.20v-6.5 M979.31 52v6.5" stroke="#111" stroke-width="1.2" fill="none"/>
<rect x="95.4" y="52" width="923" height="593.20" stroke="#111" stroke-width="1.3" fill="none"/>
<text x="84.80" y="652.40" text-anchor="end" textLength="12.28" lengthAdjust="spacingAndGlyphs" font-size="20.45" font-family='"Liberation Sans", sans-serif' fill="#000" >0</text>
<text x="84.80" y="553.53" text-anchor="end" textLength="24.56" lengthAdjust="spacingAndGlyphs" font-size="20.45" font-family='"Liberation Sans", sans-serif' fill="#000" >10</text>
<text x="84.80" y="454.67" text-anchor="end" textLength="24.56" lengthAdjust="spacingAndGlyphs" font-size="20.45" font-family='"Liberation Sans", sans-serif' fill="#000" >20</text>
<text x="84.80" y="355.80" text-anchor="end" textLength="24.56" lengthAdjust="spacingAndGlyphs" font-size="20.45" font-family='"Liberation Sans", sans-serif' fill="#000" >30</text>
<text x="84.80" y="256.93" text-anchor="end" textLength="24.56" lengthAdjust="spacingAndGlyphs" font-size="20.45" font-family='"Liberation Sans", sans-serif' fill="#000" >40</text>
<text x="84.80" y="158.07" text-anchor="end" textLength="24.56" lengthAdjust="spacingAndGlyphs" font-size="20.45" font-family='"Liberation Sans", sans-serif' fill="#000" >50</text>
<text x="84.80" y="59.20" text-anchor="end" textLength="24.56" lengthAdjust="spacingAndGlyphs" font-size="20.45" font-family='"Liberation Sans", sans-serif' fill="#000" >60</text>
<text x="95.40" y="666.20" text-anchor="middle" textLength="29.75" lengthAdjust="spacingAndGlyphs" font-size="20.45" font-family='"Liberation Sans", sans-serif' fill="#000" >Jan</text>
<text x="173.58" y="666.20" text-anchor="middle" textLength="34.17" lengthAdjust="spacingAndGlyphs" font-size="20.45" font-family='"Liberation Sans", sans-serif' fill="#000" >Feb</text>
<text x="246.71" y="666.20" text-anchor="middle" textLength="36.41" lengthAdjust="spacingAndGlyphs" font-size="20.45" font-family='"Liberation Sans", sans-serif' fill="#000" >Mar</text>
<text x="324.89" y="666.20" text-anchor="middle" textLength="33.39" lengthAdjust="spacingAndGlyphs" font-size="20.45" font-family='"Liberation Sans", sans-serif' fill="#000" >Apr</text>
<text x="400.54" y="666.20" text-anchor="middle" textLength="39.90" lengthAdjust="spacingAndGlyphs" font-size="20.45" font-family='"Liberation Sans", sans-serif' fill="#000" >May</text>
<text x="478.72" y="666.20" text-anchor="middle" textLength="30.16" lengthAdjust="spacingAndGlyphs" font-size="20.45" font-family='"Liberation Sans", sans-serif' fill="#000" >Jun</text>
<text x="554.38" y="666.20" text-anchor="middle" textLength="23.29" lengthAdjust="spacingAndGlyphs" font-size="20.45" font-family='"Liberation Sans", sans-serif' fill="#000" >Jul</text>
<text x="632.56" y="666.20" text-anchor="middle" textLength="37.69" lengthAdjust="spacingAndGlyphs" font-size="20.45" font-family='"Liberation Sans", sans-serif' fill="#000" >Aug</text>
<text x="710.73" y="666.20" text-anchor="middle" textLength="36.38" lengthAdjust="spacingAndGlyphs" font-size="20.45" font-family='"Liberation Sans", sans-serif' fill="#000" >Sep</text>
<text x="786.39" y="666.20" text-anchor="middle" textLength="33.37" lengthAdjust="spacingAndGlyphs" font-size="20.45" font-family='"Liberation Sans", sans-serif' fill="#000" >Oct</text>
<text x="864.57" y="666.20" text-anchor="middle" textLength="37.67" lengthAdjust="spacingAndGlyphs" font-size="20.45" font-family='"Liberation Sans", sans-serif' fill="#000" >Nov</text>
<text x="940.22" y="666.20" text-anchor="middle" textLength="37.35" lengthAdjust="spacingAndGlyphs" font-size="20.45" font-family='"Liberation Sans", sans-serif' fill="#000" >Dec</text>
<text x="1018.40" y="666.20" text-anchor="middle" textLength="29.75" lengthAdjust="spacingAndGlyphs" font-size="20.45" font-family='"Liberation Sans", sans-serif' fill="#000" >Jan</text>
<text x="249.70" y="28.10" text-anchor="start" textLength="613.79" lengthAdjust="spacingAndGlyphs" font-size="20.91" font-family='"Liberation Sans", sans-serif' fill="#000" >Ocean Heat Content in Tropical East Atlantic (10-20N 60-20W)</text>
<text transform="translate(44 378.6) rotate(-90)" textLength="51.6" lengthAdjust="spacingAndGlyphs" font-size="20.45" font-family='"Liberation Sans", sans-serif' fill="#000">kJ/cm</text>
<text transform="translate(33.4 326.2) rotate(-90)" textLength="7.6" lengthAdjust="spacingAndGlyphs" font-size="13.5" font-family='"Liberation Sans", sans-serif' fill="#000">2</text>
<rect x="145.8" y="141" width="226.8" height="84" fill="#000"/>
<rect x="135.3" y="133.6" width="236" height="88.2" fill="#fff" stroke="#000" stroke-width="1"/>
<path d="M149.5 146.6H207" stroke="#0000ff" stroke-width="2.2"/>
<text x="221.80" y="151.20" text-anchor="start" textLength="124.52" lengthAdjust="spacingAndGlyphs" font-size="13.36" font-family='"Liberation Sans", sans-serif' fill="#000" >2013-2025 Average</text>
<path d="M149.5 163.5H207" stroke="#d9d9d9" stroke-width="1.6"/>
<text x="221.80" y="168.10" text-anchor="start" textLength="134.15" lengthAdjust="spacingAndGlyphs" font-size="13.36" font-family='"Liberation Sans", sans-serif' fill="#000" >2013-2023 Individual</text>
<path d="M149.5 179.9H207" stroke="#c08888" stroke-width="2"/>
<text x="221.80" y="184.50" text-anchor="start" textLength="32.09" lengthAdjust="spacingAndGlyphs" font-size="13.36" font-family='"Liberation Sans", sans-serif' fill="#000" >2024</text>
<path d="M149.5 195.3H207" stroke="#ffa898" stroke-width="1.2"/>
<text x="221.80" y="199.90" text-anchor="start" textLength="32.09" lengthAdjust="spacingAndGlyphs" font-size="13.36" font-family='"Liberation Sans", sans-serif' fill="#000" >2025</text>
<path d="M149.5 210.8H207" stroke="#ff0000" stroke-width="2.4"/>
<text x="221.80" y="215.40" text-anchor="start" textLength="32.09" lengthAdjust="spacingAndGlyphs" font-size="13.36" font-family='"Liberation Sans", sans-serif' fill="#000" >2026</text>
<defs><clipPath id="mc"><path d="M188.00 249.60L192.39 250.48L196.78 251.29L201.40 252.08L206.48 252.86L211.56 253.56L216.64 254.17L221.73 254.69L226.81 255.12L232.26 255.49L237.71 255.76L243.24 255.93L248.92 256.00L254.60 255.96L260.26 255.81L265.89 255.55L271.53 255.19L276.98 254.74L282.43 254.18L287.72 253.55L292.66 252.87L297.60 252.11L302.24 251.33L306.72 250.50L311.20 249.60L311.20 249.60L314.68 257.36L317.72 265.12L320.33 272.88L322.54 280.63L324.37 288.39L325.85 296.15L327.01 303.91L327.86 311.67L328.44 319.42L328.80 327.18L328.96 334.94L329.00 342.70L329.00 342.70L323.22 343.88L317.45 344.97L311.47 346.00L305.10 347.00L298.73 347.88L291.92 348.71L284.89 349.44L277.87 350.04L270.60 350.51L263.34 350.85L256.05 351.04L248.73 351.10L241.40 351.01L234.28 350.79L227.25 350.43L220.22 349.95L213.67 349.38L207.12 348.70L200.57 347.90L194.02 346.98L187.47 345.96L181.51 344.92L175.86 343.85L170.20 342.70L170.20 342.70L170.24 334.94L170.40 327.18L170.76 319.42L171.34 311.67L172.19 303.91L173.35 296.15L174.83 288.39L176.66 280.63L178.87 272.88L181.48 265.12L184.52 257.36L188.00 249.60Z"/></clipPath></defs>
<path d="M188.00 249.60L192.39 250.48L196.78 251.29L201.40 252.08L206.48 252.86L211.56 253.56L216.64 254.17L221.73 254.69L226.81 255.12L232.26 255.49L237.71 255.76L243.24 255.93L248.92 256.00L254.60 255.96L260.26 255.81L265.89 255.55L271.53 255.19L276.98 254.74L282.43 254.18L287.72 253.55L292.66 252.87L297.60 252.11L302.24 251.33L306.72 250.50L311.20 249.60L311.20 249.60L314.68 257.36L317.72 265.12L320.33 272.88L322.54 280.63L324.37 288.39L325.85 296.15L327.01 303.91L327.86 311.67L328.44 319.42L328.80 327.18L328.96 334.94L329.00 342.70L329.00 342.70L323.22 343.88L317.45 344.97L311.47 346.00L305.10 347.00L298.73 347.88L291.92 348.71L284.89 349.44L277.87 350.04L270.60 350.51L263.34 350.85L256.05 351.04L248.73 351.10L241.40 351.01L234.28 350.79L227.25 350.43L220.22 349.95L213.67 349.38L207.12 348.70L200.57 347.90L194.02 346.98L187.47 345.96L181.51 344.92L175.86 343.85L170.20 342.70L170.20 342.70L170.24 334.94L170.40 327.18L170.76 319.42L171.34 311.67L172.19 303.91L173.35 296.15L174.83 288.39L176.66 280.63L178.87 272.88L181.48 265.12L184.52 257.36L188.00 249.60Z" fill="#add8e6"/>
<g clip-path="url(#mc)">
<path d="M221.39 254.66L220.64 255.55L219.39 256.78L218.37 258.23L217.32 259.09L217.60 260.47L217.44 263.35L215.77 264.34L213.27 265.62L211.22 266.75L208.58 268.38L207.24 269.57L206.99 271.47L207.26 275.57L207.38 279.24L206.58 281.08L205.51 281.72L204.57 279.68L203.82 276.11L203.56 273.56L202.68 271.89L200.30 271.96L197.49 270.58L194.25 270.28L194.11 272.60L192.42 272.14L189.22 270.24L187.15 270.67L182.48 273.17L181.94 276.02L181.31 277.27L179.24 283.14L179.24 285.67L180.48 289.57L182.45 291.66L186.68 291.79L188.53 289.58L189.23 287.37L193.07 287.00L195.02 287.28L194.05 289.07L192.62 292.71L191.51 294.46L191.39 297.71L196.45 298.04L198.28 299.82L198.97 301.24L198.42 304.99L197.98 307.98L198.98 310.59L201.12 312.00L204.59 311.65L208.10 313.55L209.12 313.66L211.54 310.47L213.85 309.16L217.59 309.48L218.40 307.26L221.02 309.17L224.22 311.30L228.25 311.34L234.65 311.64L236.45 313.22L239.15 316.16L242.58 319.08L248.74 320.86L254.53 322.92L257.47 328.58L258.46 331.98L261.36 333.80L269.50 336.32L275.88 336.70L280.64 337.87L286.84 341.30L287.42 345.41L285.74 349.36L277.87 350.04L258.49 350.99L238.96 350.95L220.22 349.95L205.90 348.56L203.63 344.51L201.03 340.41L200.70 337.53L203.01 334.98L201.29 333.26L202.77 329.27L205.10 326.70L207.52 322.23L207.76 316.56L206.18 313.91L203.49 315.51L197.63 312.51L194.43 309.22L193.83 306.28L189.96 302.27L184.81 299.17L180.88 295.62L174.09 292.83L173.94 292.80L175.16 286.84L177.50 277.53L180.39 268.22L183.88 258.91L188.00 249.60L193.85 250.76L199.70 251.80L206.48 252.86L213.26 253.77L218.68 254.39ZM316.79 262.63L318.10 265.37L319.11 267.37L319.12 269.55L316.13 272.88L314.92 276.83L313.85 281.31L313.49 287.19L315.30 289.59L316.03 291.97L315.95 296.03L314.84 298.71L316.19 300.78L316.62 303.00L318.67 304.75L320.38 306.36L322.37 307.71L323.23 310.02L325.54 311.68L327.94 312.54L328.12 314.77L327.20 305.46L324.04 286.84L316.79 262.63ZM198.23 286.96L203.28 285.30L206.47 285.87L210.19 288.58L215.22 292.12L209.75 292.17L206.06 288.70L203.05 286.81ZM214.56 295.50L217.46 292.89L222.01 293.62L224.86 295.91L220.11 296.73ZM208.12 294.87L211.53 295.79L210.13 296.41ZM226.80 296.22L229.61 296.76L228.86 297.48ZM210.67 279.61L212.27 279.58L211.03 282.53L209.77 283.35ZM311.52 272.33L314.69 270.98L312.52 273.33Z" fill="#d3d3d3" stroke="#6f6f6f" stroke-width="0.8" stroke-linejoin="round"/>
<path d="M199.70 251.80L196.37 261.18L193.54 270.56L191.20 279.94L189.31 289.32L187.83 298.69L186.74 308.07L186.00 317.45L185.54 326.83L185.33 336.21L185.29 345.59M213.26 253.77L210.82 263.21L208.77 272.65L207.06 282.09L205.68 291.53L204.61 300.97L203.82 310.41L203.27 319.85L202.94 329.30L202.79 338.74L202.75 348.18M226.81 255.12L225.28 264.61L223.99 274.09L222.92 283.57L222.06 293.05L221.39 302.54L220.89 312.02L220.55 321.50L220.34 330.98L220.24 340.47L220.22 349.95M241.35 255.89L240.79 265.39L240.33 274.90L239.94 284.40L239.63 293.91L239.38 303.42L239.20 312.92L239.08 322.43L239.00 331.94L238.97 341.44L238.96 350.95M256.50 255.92L256.96 265.43L257.35 274.93L257.68 284.44L257.94 293.95L258.14 303.46L258.29 312.96L258.39 322.47L258.46 331.98L258.49 341.49L258.49 350.99M271.53 255.19L273.00 264.67L274.24 274.16L275.27 283.64L276.10 293.13L276.75 302.61L277.23 312.10L277.55 321.58L277.75 331.07L277.85 340.55L277.87 350.04M286.07 253.76L288.51 263.20L290.57 272.64L292.28 282.08L293.67 291.52L294.74 300.96L295.54 310.40L296.09 319.84L296.42 329.28L296.57 338.72L296.60 348.16M299.25 251.84L302.57 261.22L305.38 270.60L307.71 279.98L309.60 289.36L311.06 298.74L312.14 308.12L312.89 317.50L313.34 326.88L313.55 336.26L313.60 345.64M180.39 268.22L186.96 269.45L193.54 270.56L201.15 271.69L208.77 272.65L216.38 273.45L223.99 274.09L232.16 274.59L240.33 274.90L248.84 275.02L257.35 274.93L265.80 274.65L274.24 274.16L282.41 273.49L290.57 272.64L297.98 271.70L305.38 270.60L312.10 269.48L318.81 268.22M175.16 286.84L182.24 288.14L189.31 289.32L197.49 290.51L205.68 291.53L213.87 292.38L222.06 293.05L230.84 293.58L239.63 293.91L248.78 294.04L257.94 293.95L267.02 293.65L276.10 293.13L284.88 292.42L293.67 291.52L301.63 290.52L309.60 289.36L316.82 288.17L324.04 286.84M172.00 305.46L179.37 306.84L186.74 308.07L195.28 309.34L203.82 310.41L212.35 311.31L220.89 312.02L230.05 312.58L239.20 312.92L248.75 313.06L258.29 312.96L267.76 312.64L277.23 312.10L286.38 311.35L295.54 310.40L303.84 309.35L312.14 308.12L319.67 306.86L327.20 305.46M170.52 324.08L178.03 325.53L185.54 326.83L194.24 328.16L202.94 329.30L211.64 330.24L220.34 330.98L229.67 331.57L239.00 331.94L248.73 332.08L258.46 331.98L268.11 331.64L277.75 331.07L287.08 330.28L296.42 329.28L304.88 328.17L313.34 326.88L321.01 325.56L328.68 324.08" fill="none" stroke="#7d8f9c" stroke-width="0.55"/>
</g>
<path d="M188.00 249.60L192.39 250.48L196.78 251.29L201.40 252.08L206.48 252.86L211.56 253.56L216.64 254.17L221.73 254.69L226.81 255.12L232.26 255.49L237.71 255.76L243.24 255.93L248.92 256.00L254.60 255.96L260.26 255.81L265.89 255.55L271.53 255.19L276.98 254.74L282.43 254.18L287.72 253.55L292.66 252.87L297.60 252.11L302.24 251.33L306.72 250.50L311.20 249.60L311.20 249.60L314.68 257.36L317.72 265.12L320.33 272.88L322.54 280.63L324.37 288.39L325.85 296.15L327.01 303.91L327.86 311.67L328.44 319.42L328.80 327.18L328.96 334.94L329.00 342.70L329.00 342.70L323.22 343.88L317.45 344.97L311.47 346.00L305.10 347.00L298.73 347.88L291.92 348.71L284.89 349.44L277.87 350.04L270.60 350.51L263.34 350.85L256.05 351.04L248.73 351.10L241.40 351.01L234.28 350.79L227.25 350.43L220.22 349.95L213.67 349.38L207.12 348.70L200.57 347.90L194.02 346.98L187.47 345.96L181.51 344.92L175.86 343.85L170.20 342.70L170.20 342.70L170.24 334.94L170.40 327.18L170.76 319.42L171.34 311.67L172.19 303.91L173.35 296.15L174.83 288.39L176.66 280.63L178.87 272.88L181.48 265.12L184.52 257.36L188.00 249.60Z" fill="none" stroke="#b8c4cc" stroke-width="0.6"/>
<path d="M239.63 293.91L248.78 294.04L257.94 293.95L267.02 293.65L276.10 293.13L284.88 292.42L293.67 291.52L301.63 290.52L309.60 289.36L309.60 289.36L311.06 298.74L312.14 308.12L312.14 308.12L303.84 309.35L295.54 310.40L286.38 311.35L277.23 312.10L267.76 312.64L258.29 312.96L248.75 313.06L239.20 312.92L239.20 312.92L239.38 303.42L239.63 293.91Z" fill="none" stroke="#9020d8" stroke-width="2.6"/>
<path d="M239.63 293.91L248.78 294.04L257.94 293.95L267.02 293.65L276.10 293.13L284.88 292.42L293.67 291.52L301.63 290.52L309.60 289.36L309.60 289.36L311.06 298.74L312.14 308.12L312.14 308.12L303.84 309.35L295.54 310.40L286.38 311.35L277.23 312.10L267.76 312.64L258.29 312.96L248.75 313.06L239.20 312.92L239.20 312.92L239.38 303.42L239.63 293.91Z" fill="none" stroke="#c070f0" stroke-width="0.6" stroke-opacity="0.8"/>
<text x="655" y="413.2" textLength="262.4" lengthAdjust="spacingAndGlyphs" font-size="32" font-weight="bold" font-family='"Liberation Serif", serif' fill="#000">Main Development</text>
<text x="655" y="450" textLength="235.3" lengthAdjust="spacingAndGlyphs" font-size="32" font-weight="bold" font-family='"Liberation Serif", serif' fill="#000">Region for North</text>
<text x="655" y="487" textLength="273.0" lengthAdjust="spacingAndGlyphs" font-size="32" font-weight="bold" font-family='"Liberation Serif", serif' fill="#000">Atlantic Hurricanes</text>
<text x="655" y="524.1" textLength="268.5" lengthAdjust="spacingAndGlyphs" font-size="32" font-weight="bold" font-family='"Liberation Serif", serif' fill="#000">is 2nd coolest in the</text>
<text x="655" y="561" textLength="283.6" lengthAdjust="spacingAndGlyphs" font-size="32" font-weight="bold" font-family='"Liberation Serif", serif' fill="#000">2013-25 climatology.</text>
<text x="1038.00" y="705.70" text-anchor="end" textLength="169.08" lengthAdjust="spacingAndGlyphs" font-size="14.94" font-family='"Liberation Sans", sans-serif' fill="#778899" >Analysis: Brian McNoldy</text>
<text x="1038.00" y="719.20" text-anchor="end" textLength="176.86" lengthAdjust="spacingAndGlyphs" font-size="14.94" font-family='"Liberation Sans", sans-serif' fill="#778899" >OHC data: Univ. of Miami</text>
<text x="1038.00" y="733.70" text-anchor="end" textLength="196.22" lengthAdjust="spacingAndGlyphs" font-size="14.94" font-family='"Liberation Sans", sans-serif' fill="#778899" >Upper Ocean Dynamics Lab</text>
<path d="M24.1 683.2H33.3V698.3C33.3 701.5 36.5 703.7 42 703.7V705.1H33C27.5 705.1 24.1 703.5 24.1 701.3Z" fill="#f47321"/>
<path d="M60.9 683.2H52.2V698.3C52.2 701.5 49 703.4 43.4 703.4V705.1H52C57.5 705.1 60.9 703.5 60.9 701.3Z" fill="#005030"/>
<path d="M67.5 677V736" stroke="#a9bdb1" stroke-width="1"/>
<text x="74.5" y="689.1" textLength="98" lengthAdjust="spacingAndGlyphs" font-size="8.5" font-family='"Liberation Serif", serif' fill="#005030">UNIVERSITY OF MIAMI</text>
<text x="74.5" y="705.1" textLength="144.7" lengthAdjust="spacingAndGlyphs" font-size="12" font-family='"Liberation Serif", serif' fill="#f47321">ROSENSTIEL SCHOOL of</text>
<text x="74.5" y="717.5" textLength="145.8" lengthAdjust="spacingAndGlyphs" font-size="12" font-family='"Liberation Serif", serif' fill="#f47321">MARINE, ATMOSPHERIC</text>
<text x="74.5" y="730.6" textLength="110.5" lengthAdjust="spacingAndGlyphs" font-size="12" font-family='"Liberation Serif", serif' fill="#f47321">&amp; EARTH SCIENCE</text>
</svg></body></html>
